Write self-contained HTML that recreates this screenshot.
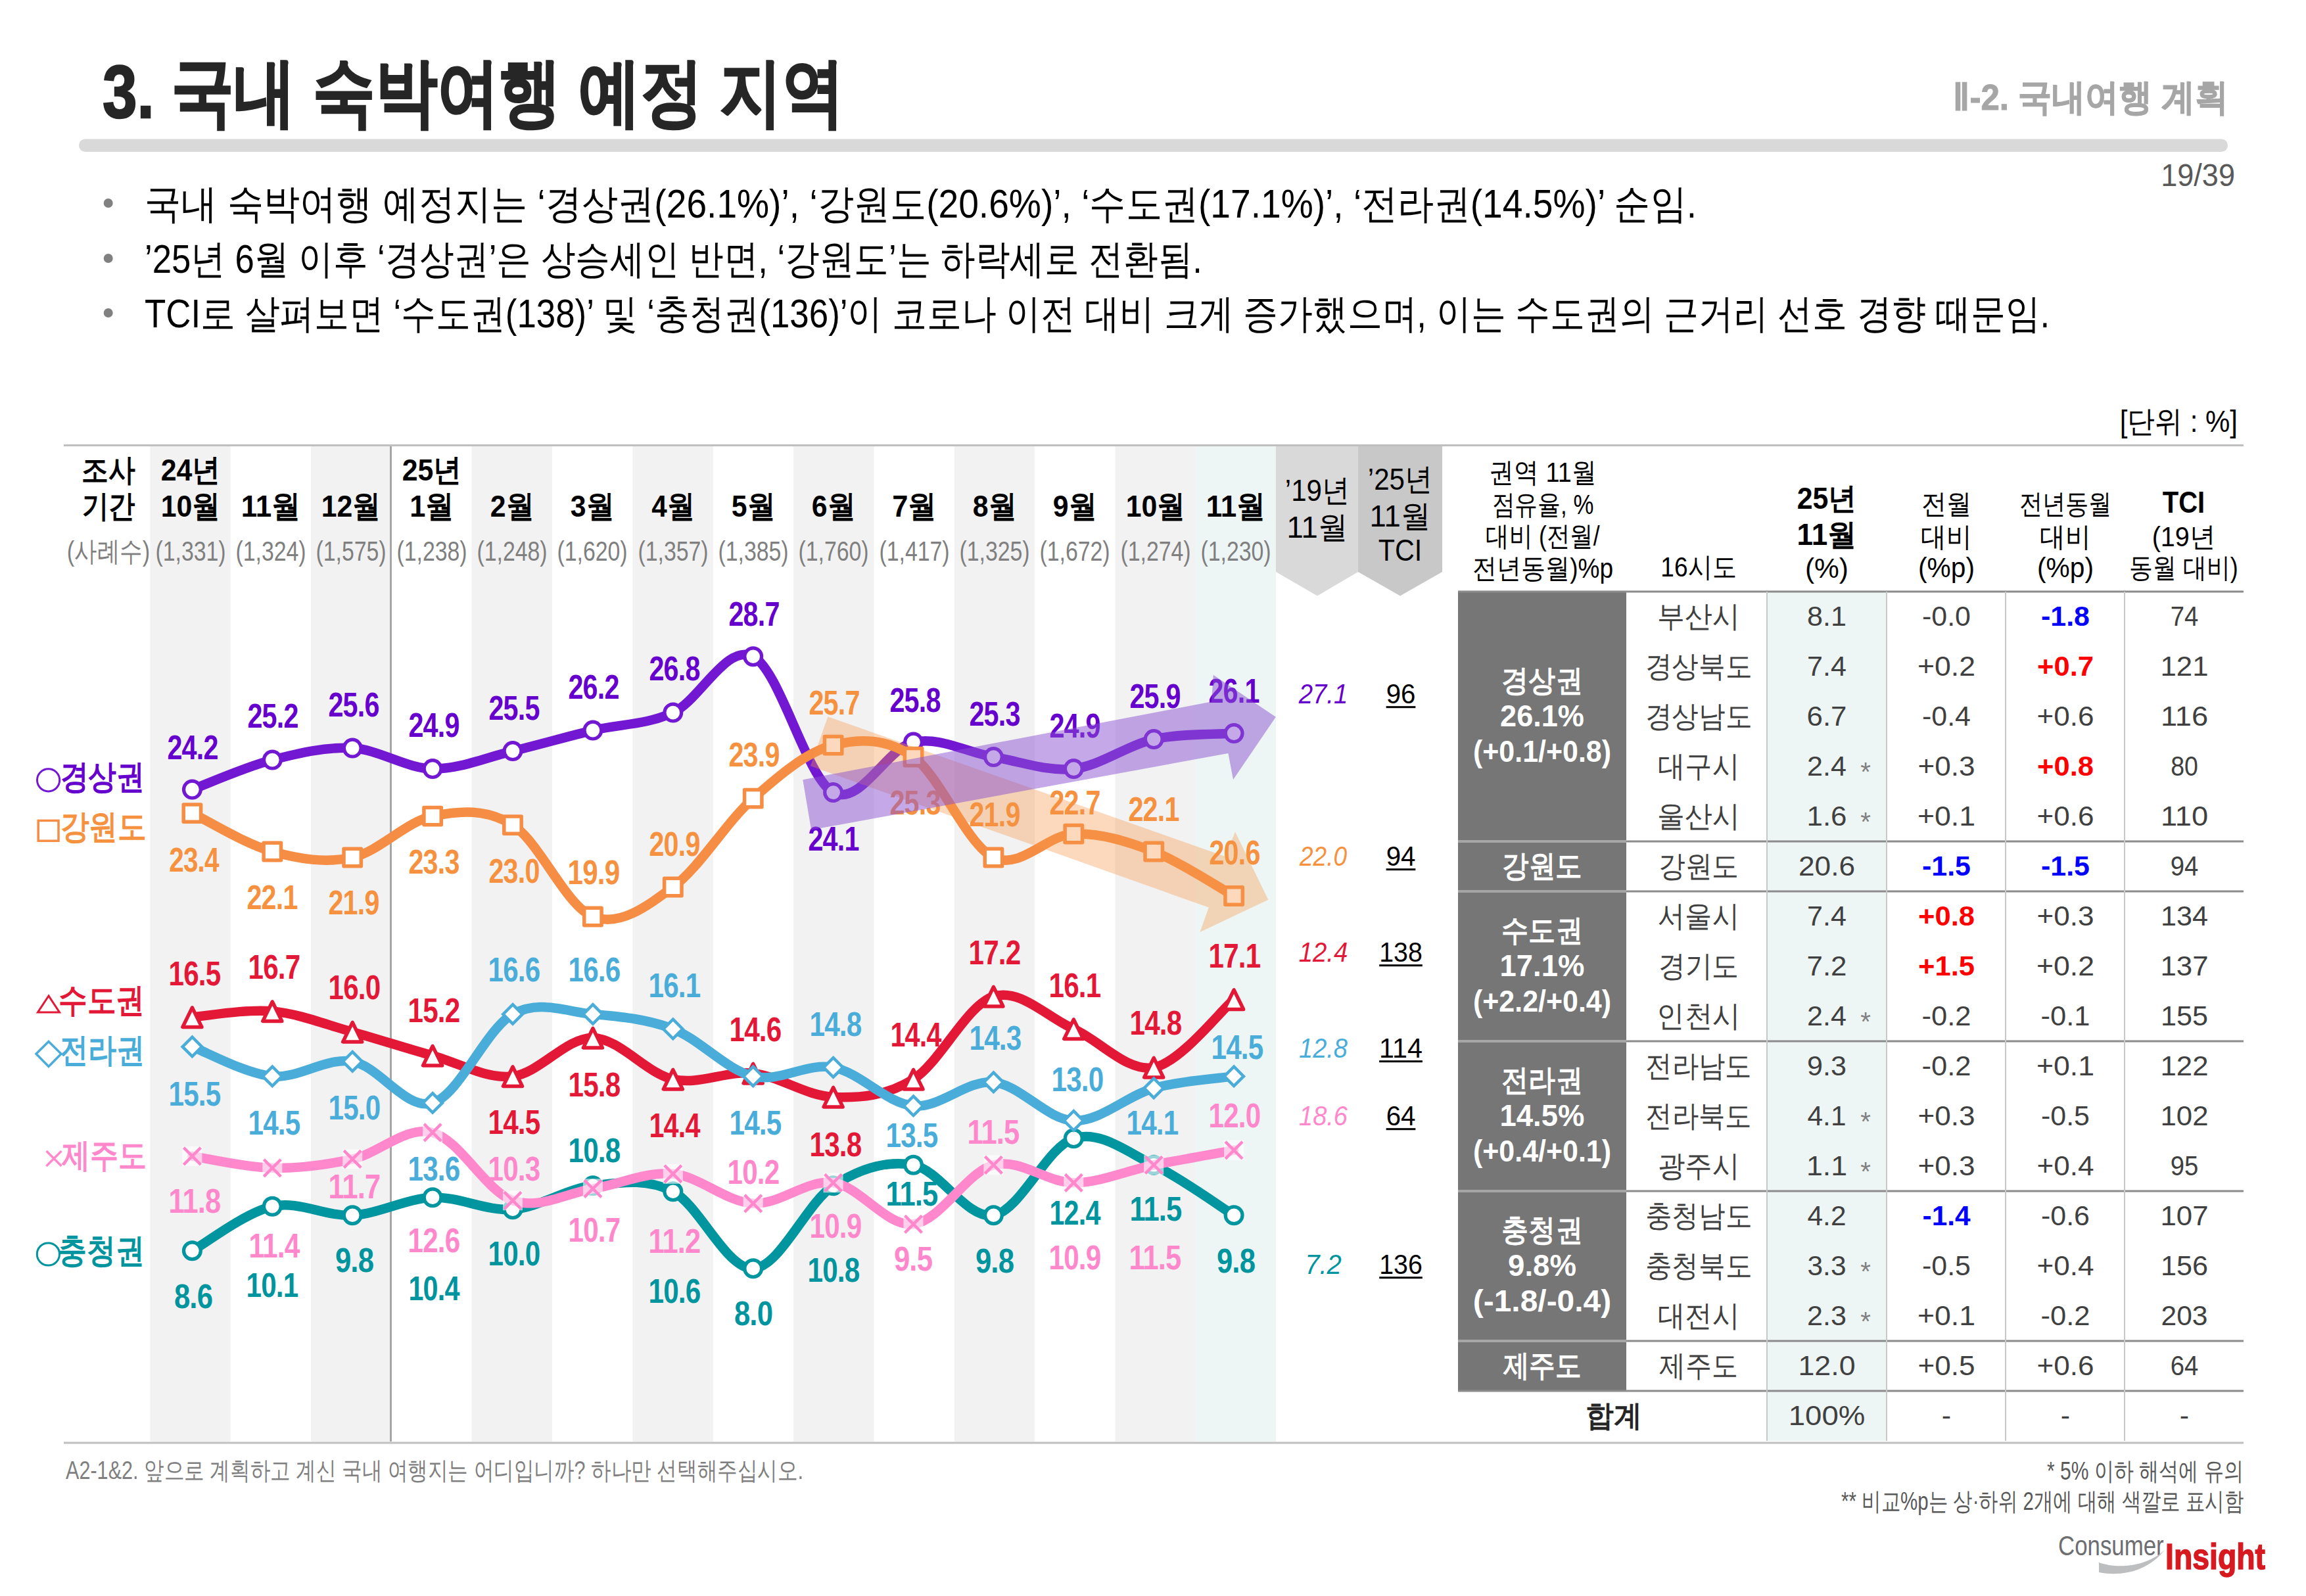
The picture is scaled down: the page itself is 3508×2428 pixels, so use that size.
<!DOCTYPE html>
<html><head><meta charset="utf-8"><style>
html,body{margin:0;padding:0;background:#fff;}
body{width:3508px;height:2428px;position:relative;overflow:hidden;font-family:"Liberation Sans", sans-serif;}
.t{position:absolute;white-space:nowrap;line-height:1.2;}
svg{position:absolute;left:0;top:0;}
</style></head><body>
<svg width="3508" height="2428" viewBox="0 0 3508 2428"><rect x="228.3" y="679" width="122.4" height="1514" fill="#f2f2f2"/><rect x="473.0" y="679" width="122.4" height="1514" fill="#f2f2f2"/><rect x="717.7" y="679" width="122.4" height="1514" fill="#f2f2f2"/><rect x="962.4" y="679" width="122.4" height="1514" fill="#f2f2f2"/><rect x="1207.1" y="679" width="122.4" height="1514" fill="#f2f2f2"/><rect x="1451.8" y="679" width="122.4" height="1514" fill="#f2f2f2"/><rect x="1696.5" y="679" width="122.4" height="1514" fill="#f2f2f2"/><rect x="1818" y="679" width="123" height="1514" fill="#eef6f5"/><polygon points="1941,679 2066,679 2066,870 2004,906.5 1941,870" fill="#d9d9d9"/><polygon points="2066,679 2194,679 2194,870 2130,906.5 2066,870" fill="#c8c8c8"/><rect x="2689" y="900" width="181" height="1292" fill="#eef6f5"/><rect x="2218" y="900" width="256" height="380" fill="#767676"/><rect x="2218" y="1280" width="256" height="76" fill="#767676"/><rect x="2218" y="1356" width="256" height="228" fill="#767676"/><rect x="2218" y="1584" width="256" height="228" fill="#767676"/><rect x="2218" y="1812" width="256" height="228" fill="#767676"/><rect x="2218" y="2040" width="256" height="76" fill="#767676"/><rect x="2218" y="1278.0" width="256" height="4" fill="#a6a6a6"/><rect x="2474" y="1278.5" width="939" height="3" fill="#8c8c8c"/><rect x="2218" y="1354.0" width="256" height="4" fill="#a6a6a6"/><rect x="2474" y="1354.5" width="939" height="3" fill="#8c8c8c"/><rect x="2218" y="1582.0" width="256" height="4" fill="#a6a6a6"/><rect x="2474" y="1582.5" width="939" height="3" fill="#8c8c8c"/><rect x="2218" y="1810.0" width="256" height="4" fill="#a6a6a6"/><rect x="2474" y="1810.5" width="939" height="3" fill="#8c8c8c"/><rect x="2218" y="2038.0" width="256" height="4" fill="#a6a6a6"/><rect x="2474" y="2038.5" width="939" height="3" fill="#8c8c8c"/><rect x="2218" y="898.5" width="1195" height="3" fill="#8c8c8c"/><rect x="2218" y="2114.5" width="1195" height="3" fill="#8c8c8c"/><rect x="2687.0" y="900" width="2" height="1292" fill="#c8c8c8"/><rect x="2869.0" y="900" width="2" height="1292" fill="#c8c8c8"/><rect x="3050.0" y="900" width="2" height="1292" fill="#c8c8c8"/><rect x="3231.0" y="900" width="2" height="1292" fill="#c8c8c8"/><rect x="97" y="676" width="3316" height="3" fill="#bfbfbf"/><rect x="97" y="2193.5" width="3316" height="3" fill="#bfbfbf"/><rect x="593" y="679" width="3" height="1514" fill="#a6a6a6"/><rect x="120" y="211.5" width="3269" height="19.5" rx="9.75" fill="#d9d9d9"/><circle cx="73.6" cy="1186.8" r="17.1" fill="none" stroke="#7318d2" stroke-width="3"/><rect x="58.2" y="1248.4" width="30.8" height="30.8" fill="none" stroke="#f58d45" stroke-width="3.5"/><polygon points="74,1515 57.5,1540 90.5,1540" fill="none" stroke="#e31837" stroke-width="3"/><polygon points="74,1584.5 93,1603.3 74,1622.4 55,1603.3" fill="none" stroke="#4aadd9" stroke-width="3.5"/><path d="M70.5,1751 L93.5,1774 M93.5,1751 L70.5,1774" stroke="#ff88cc" stroke-width="3.5"/><circle cx="73.4" cy="1908" r="17.1" fill="none" stroke="#00959f" stroke-width="3"/><circle cx="164.7" cy="309" r="7" fill="#808080"/><circle cx="164.7" cy="393" r="7" fill="#808080"/><circle cx="164.7" cy="476" r="7" fill="#808080"/><path d="M292.4,1902.8 C312.7,1891.5 373.7,1844.3 414.3,1835.3 C454.9,1826.3 495.6,1851.0 536.2,1848.8 C576.8,1846.5 617.5,1823.3 658.1,1821.8 C698.7,1820.3 739.4,1842.8 780.0,1839.8 C820.6,1836.8 861.3,1808.3 901.9,1803.8 C942.5,1799.3 983.2,1791.8 1023.8,1812.8 C1064.4,1833.8 1105.1,1931.3 1145.7,1929.8 C1186.3,1928.3 1227.0,1830.1 1267.6,1803.8 C1308.2,1777.6 1348.9,1764.8 1389.5,1772.3 C1430.1,1779.8 1470.8,1855.5 1511.4,1848.8 C1552.0,1842.0 1592.7,1744.6 1633.3,1731.8 C1673.9,1719.1 1714.6,1752.8 1755.2,1772.3 C1795.8,1791.8 1856.8,1836.1 1877.1,1848.8" fill="none" stroke="#00959f" stroke-width="14.5" stroke-linecap="round" stroke-linejoin="round"/><circle cx="292.4" cy="1902.8" r="12.9" fill="#fff" stroke="#00959f" stroke-width="5.2"/><circle cx="414.3" cy="1835.3" r="12.9" fill="#fff" stroke="#00959f" stroke-width="5.2"/><circle cx="536.2" cy="1848.8" r="12.9" fill="#fff" stroke="#00959f" stroke-width="5.2"/><circle cx="658.1" cy="1821.8" r="12.9" fill="#fff" stroke="#00959f" stroke-width="5.2"/><circle cx="780.0" cy="1839.8" r="12.9" fill="#fff" stroke="#00959f" stroke-width="5.2"/><circle cx="901.9" cy="1803.8" r="12.9" fill="#fff" stroke="#00959f" stroke-width="5.2"/><circle cx="1023.8" cy="1812.8" r="12.9" fill="#fff" stroke="#00959f" stroke-width="5.2"/><circle cx="1145.7" cy="1929.8" r="12.9" fill="#fff" stroke="#00959f" stroke-width="5.2"/><circle cx="1267.6" cy="1803.8" r="12.9" fill="#fff" stroke="#00959f" stroke-width="5.2"/><circle cx="1389.5" cy="1772.3" r="12.9" fill="#fff" stroke="#00959f" stroke-width="5.2"/><circle cx="1511.4" cy="1848.8" r="12.9" fill="#fff" stroke="#00959f" stroke-width="5.2"/><circle cx="1633.3" cy="1731.8" r="12.9" fill="#fff" stroke="#00959f" stroke-width="5.2"/><circle cx="1755.2" cy="1772.3" r="12.9" fill="#fff" stroke="#00959f" stroke-width="5.2"/><circle cx="1877.1" cy="1848.8" r="12.9" fill="#fff" stroke="#00959f" stroke-width="5.2"/><path d="M292.4,1758.8 C312.7,1761.8 373.7,1776.1 414.3,1776.8 C454.9,1777.6 495.6,1772.3 536.2,1763.3 C576.8,1754.3 617.5,1712.4 658.1,1722.9 C698.7,1733.3 739.4,1812.1 780.0,1826.3 C820.6,1840.5 861.3,1815.1 901.9,1808.3 C942.5,1801.6 983.2,1782.1 1023.8,1785.8 C1064.4,1789.6 1105.1,1828.6 1145.7,1830.8 C1186.3,1833.1 1227.0,1794.1 1267.6,1799.3 C1308.2,1804.6 1348.9,1866.8 1389.5,1862.3 C1430.1,1857.8 1470.8,1782.8 1511.4,1772.3 C1552.0,1761.8 1592.7,1799.3 1633.3,1799.3 C1673.9,1799.3 1714.6,1780.6 1755.2,1772.3 C1795.8,1764.1 1856.8,1753.6 1877.1,1749.8" fill="none" stroke="#ff88cc" stroke-width="14.5" stroke-linecap="round" stroke-linejoin="round"/><rect x="277.4" y="1743.8" width="30" height="30" fill="#fff" fill-opacity="0.6"/><path d="M279.4,1745.8 L305.4,1771.8 M305.4,1745.8 L279.4,1771.8" stroke="#ff88cc" stroke-width="4.5"/><rect x="399.3" y="1761.8" width="30" height="30" fill="#fff" fill-opacity="0.6"/><path d="M401.3,1763.8 L427.3,1789.8 M427.3,1763.8 L401.3,1789.8" stroke="#ff88cc" stroke-width="4.5"/><rect x="521.2" y="1748.3" width="30" height="30" fill="#fff" fill-opacity="0.6"/><path d="M523.2,1750.3 L549.2,1776.3 M549.2,1750.3 L523.2,1776.3" stroke="#ff88cc" stroke-width="4.5"/><rect x="643.1" y="1707.9" width="30" height="30" fill="#fff" fill-opacity="0.6"/><path d="M645.1,1709.9 L671.1,1735.9 M671.1,1709.9 L645.1,1735.9" stroke="#ff88cc" stroke-width="4.5"/><rect x="765.0" y="1811.3" width="30" height="30" fill="#fff" fill-opacity="0.6"/><path d="M767.0,1813.3 L793.0,1839.3 M793.0,1813.3 L767.0,1839.3" stroke="#ff88cc" stroke-width="4.5"/><rect x="886.9" y="1793.3" width="30" height="30" fill="#fff" fill-opacity="0.6"/><path d="M888.9,1795.3 L914.9,1821.3 M914.9,1795.3 L888.9,1821.3" stroke="#ff88cc" stroke-width="4.5"/><rect x="1008.8" y="1770.8" width="30" height="30" fill="#fff" fill-opacity="0.6"/><path d="M1010.8,1772.8 L1036.8,1798.8 M1036.8,1772.8 L1010.8,1798.8" stroke="#ff88cc" stroke-width="4.5"/><rect x="1130.7" y="1815.8" width="30" height="30" fill="#fff" fill-opacity="0.6"/><path d="M1132.7,1817.8 L1158.7,1843.8 M1158.7,1817.8 L1132.7,1843.8" stroke="#ff88cc" stroke-width="4.5"/><rect x="1252.6" y="1784.3" width="30" height="30" fill="#fff" fill-opacity="0.6"/><path d="M1254.6,1786.3 L1280.6,1812.3 M1280.6,1786.3 L1254.6,1812.3" stroke="#ff88cc" stroke-width="4.5"/><rect x="1374.5" y="1847.3" width="30" height="30" fill="#fff" fill-opacity="0.6"/><path d="M1376.5,1849.3 L1402.5,1875.3 M1402.5,1849.3 L1376.5,1875.3" stroke="#ff88cc" stroke-width="4.5"/><rect x="1496.4" y="1757.3" width="30" height="30" fill="#fff" fill-opacity="0.6"/><path d="M1498.4,1759.3 L1524.4,1785.3 M1524.4,1759.3 L1498.4,1785.3" stroke="#ff88cc" stroke-width="4.5"/><rect x="1618.3" y="1784.3" width="30" height="30" fill="#fff" fill-opacity="0.6"/><path d="M1620.3,1786.3 L1646.3,1812.3 M1646.3,1786.3 L1620.3,1812.3" stroke="#ff88cc" stroke-width="4.5"/><rect x="1740.2" y="1757.3" width="30" height="30" fill="#fff" fill-opacity="0.6"/><path d="M1742.2,1759.3 L1768.2,1785.3 M1768.2,1759.3 L1742.2,1785.3" stroke="#ff88cc" stroke-width="4.5"/><rect x="1862.1" y="1734.8" width="30" height="30" fill="#fff" fill-opacity="0.6"/><path d="M1864.1,1736.8 L1890.1,1762.8 M1890.1,1736.8 L1864.1,1762.8" stroke="#ff88cc" stroke-width="4.5"/><path d="M292.4,1547.4 C312.7,1545.9 373.7,1534.7 414.3,1538.4 C454.9,1542.2 495.6,1558.7 536.2,1569.9 C576.8,1581.2 617.5,1594.7 658.1,1605.9 C698.7,1617.1 739.4,1641.9 780.0,1637.4 C820.6,1632.9 861.3,1578.2 901.9,1578.9 C942.5,1579.7 983.2,1632.9 1023.8,1641.9 C1064.4,1650.9 1105.1,1628.4 1145.7,1632.9 C1186.3,1637.4 1227.0,1667.4 1267.6,1668.9 C1308.2,1670.4 1348.9,1667.4 1389.5,1641.9 C1430.1,1616.4 1470.8,1528.7 1511.4,1515.9 C1552.0,1503.2 1592.7,1547.4 1633.3,1565.4 C1673.9,1583.4 1714.6,1631.4 1755.2,1623.9 C1795.8,1616.4 1856.8,1537.7 1877.1,1520.4" fill="none" stroke="#e31837" stroke-width="14.5" stroke-linecap="round" stroke-linejoin="round"/><polygon points="292.4,1532.9 277.9,1562.4 306.9,1562.4" fill="#fff" stroke="#e31837" stroke-width="5.5" stroke-linejoin="round"/><polygon points="414.3,1523.9 399.8,1553.4 428.8,1553.4" fill="#fff" stroke="#e31837" stroke-width="5.5" stroke-linejoin="round"/><polygon points="536.2,1555.4 521.7,1584.9 550.7,1584.9" fill="#fff" stroke="#e31837" stroke-width="5.5" stroke-linejoin="round"/><polygon points="658.1,1591.4 643.6,1620.9 672.6,1620.9" fill="#fff" stroke="#e31837" stroke-width="5.5" stroke-linejoin="round"/><polygon points="780.0,1622.9 765.5,1652.4 794.5,1652.4" fill="#fff" stroke="#e31837" stroke-width="5.5" stroke-linejoin="round"/><polygon points="901.9,1564.4 887.4,1593.9 916.4,1593.9" fill="#fff" stroke="#e31837" stroke-width="5.5" stroke-linejoin="round"/><polygon points="1023.8,1627.4 1009.3,1656.9 1038.3,1656.9" fill="#fff" stroke="#e31837" stroke-width="5.5" stroke-linejoin="round"/><polygon points="1145.7,1618.4 1131.2,1647.9 1160.2,1647.9" fill="#fff" stroke="#e31837" stroke-width="5.5" stroke-linejoin="round"/><polygon points="1267.6,1654.4 1253.1,1683.9 1282.1,1683.9" fill="#fff" stroke="#e31837" stroke-width="5.5" stroke-linejoin="round"/><polygon points="1389.5,1627.4 1375.0,1656.9 1404.0,1656.9" fill="#fff" stroke="#e31837" stroke-width="5.5" stroke-linejoin="round"/><polygon points="1511.4,1501.4 1496.9,1530.9 1525.9,1530.9" fill="#fff" stroke="#e31837" stroke-width="5.5" stroke-linejoin="round"/><polygon points="1633.3,1550.9 1618.8,1580.4 1647.8,1580.4" fill="#fff" stroke="#e31837" stroke-width="5.5" stroke-linejoin="round"/><polygon points="1755.2,1609.4 1740.7,1638.9 1769.7,1638.9" fill="#fff" stroke="#e31837" stroke-width="5.5" stroke-linejoin="round"/><polygon points="1877.1,1505.9 1862.6,1535.4 1891.6,1535.4" fill="#fff" stroke="#e31837" stroke-width="5.5" stroke-linejoin="round"/><path d="M292.4,1592.4 C312.7,1599.9 373.7,1633.6 414.3,1637.4 C454.9,1641.1 495.6,1608.2 536.2,1614.9 C576.8,1621.6 617.5,1689.9 658.1,1677.9 C698.7,1665.9 739.4,1565.4 780.0,1542.9 C820.6,1520.4 861.3,1539.2 901.9,1542.9 C942.5,1546.7 983.2,1549.7 1023.8,1565.4 C1064.4,1581.2 1105.1,1627.6 1145.7,1637.4 C1186.3,1647.1 1227.0,1616.4 1267.6,1623.9 C1308.2,1631.4 1348.9,1678.6 1389.5,1682.4 C1430.1,1686.1 1470.8,1642.6 1511.4,1646.4 C1552.0,1650.1 1592.7,1703.4 1633.3,1704.9 C1673.9,1706.4 1714.6,1666.6 1755.2,1655.4 C1795.8,1644.1 1856.8,1640.4 1877.1,1637.4" fill="none" stroke="#4aadd9" stroke-width="14.5" stroke-linecap="round" stroke-linejoin="round"/><polygon points="292.4,1577.7 307.1,1592.4 292.4,1607.1 277.7,1592.4" fill="#fff" stroke="#4aadd9" stroke-width="4.6" stroke-linejoin="miter"/><polygon points="414.3,1622.7 429.0,1637.4 414.3,1652.1 399.6,1637.4" fill="#fff" stroke="#4aadd9" stroke-width="4.6" stroke-linejoin="miter"/><polygon points="536.2,1600.2 550.9,1614.9 536.2,1629.6 521.5,1614.9" fill="#fff" stroke="#4aadd9" stroke-width="4.6" stroke-linejoin="miter"/><polygon points="658.1,1663.2 672.8,1677.9 658.1,1692.6 643.4,1677.9" fill="#fff" stroke="#4aadd9" stroke-width="4.6" stroke-linejoin="miter"/><polygon points="780.0,1528.2 794.7,1542.9 780.0,1557.6 765.3,1542.9" fill="#fff" stroke="#4aadd9" stroke-width="4.6" stroke-linejoin="miter"/><polygon points="901.9,1528.2 916.6,1542.9 901.9,1557.6 887.2,1542.9" fill="#fff" stroke="#4aadd9" stroke-width="4.6" stroke-linejoin="miter"/><polygon points="1023.8,1550.7 1038.5,1565.4 1023.8,1580.1 1009.1,1565.4" fill="#fff" stroke="#4aadd9" stroke-width="4.6" stroke-linejoin="miter"/><polygon points="1145.7,1622.7 1160.4,1637.4 1145.7,1652.1 1131.0,1637.4" fill="#fff" stroke="#4aadd9" stroke-width="4.6" stroke-linejoin="miter"/><polygon points="1267.6,1609.2 1282.3,1623.9 1267.6,1638.6 1252.9,1623.9" fill="#fff" stroke="#4aadd9" stroke-width="4.6" stroke-linejoin="miter"/><polygon points="1389.5,1667.7 1404.2,1682.4 1389.5,1697.1 1374.8,1682.4" fill="#fff" stroke="#4aadd9" stroke-width="4.6" stroke-linejoin="miter"/><polygon points="1511.4,1631.7 1526.1,1646.4 1511.4,1661.1 1496.7,1646.4" fill="#fff" stroke="#4aadd9" stroke-width="4.6" stroke-linejoin="miter"/><polygon points="1633.3,1690.2 1648.0,1704.9 1633.3,1719.6 1618.6,1704.9" fill="#fff" stroke="#4aadd9" stroke-width="4.6" stroke-linejoin="miter"/><polygon points="1755.2,1640.7 1769.9,1655.4 1755.2,1670.1 1740.5,1655.4" fill="#fff" stroke="#4aadd9" stroke-width="4.6" stroke-linejoin="miter"/><polygon points="1877.1,1622.7 1891.8,1637.4 1877.1,1652.1 1862.4,1637.4" fill="#fff" stroke="#4aadd9" stroke-width="4.6" stroke-linejoin="miter"/><path d="M292.4,1201.1 C312.7,1193.6 373.7,1166.6 414.3,1156.1 C454.9,1145.6 495.6,1135.9 536.2,1138.1 C576.8,1140.4 617.5,1168.8 658.1,1169.6 C698.7,1170.3 739.4,1152.4 780.0,1142.6 C820.6,1132.9 861.3,1120.9 901.9,1111.1 C942.5,1101.4 983.2,1102.9 1023.8,1084.1 C1064.4,1065.4 1105.1,978.4 1145.7,998.7 C1186.3,1018.9 1227.0,1183.8 1267.6,1205.6 C1308.2,1227.3 1348.9,1138.1 1389.5,1129.1 C1430.1,1120.1 1470.8,1144.9 1511.4,1151.6 C1552.0,1158.4 1592.7,1174.1 1633.3,1169.6 C1673.9,1165.1 1714.6,1133.6 1755.2,1124.6 C1795.8,1115.6 1856.8,1117.1 1877.1,1115.6" fill="none" stroke="#7318d2" stroke-width="14.5" stroke-linecap="round" stroke-linejoin="round"/><circle cx="292.4" cy="1201.1" r="12.9" fill="#fff" stroke="#7318d2" stroke-width="5.2"/><circle cx="414.3" cy="1156.1" r="12.9" fill="#fff" stroke="#7318d2" stroke-width="5.2"/><circle cx="536.2" cy="1138.1" r="12.9" fill="#fff" stroke="#7318d2" stroke-width="5.2"/><circle cx="658.1" cy="1169.6" r="12.9" fill="#fff" stroke="#7318d2" stroke-width="5.2"/><circle cx="780.0" cy="1142.6" r="12.9" fill="#fff" stroke="#7318d2" stroke-width="5.2"/><circle cx="901.9" cy="1111.1" r="12.9" fill="#fff" stroke="#7318d2" stroke-width="5.2"/><circle cx="1023.8" cy="1084.1" r="12.9" fill="#fff" stroke="#7318d2" stroke-width="5.2"/><circle cx="1145.7" cy="998.7" r="12.9" fill="#fff" stroke="#7318d2" stroke-width="5.2"/><circle cx="1267.6" cy="1205.6" r="12.9" fill="#fff" stroke="#7318d2" stroke-width="5.2"/><circle cx="1389.5" cy="1129.1" r="12.9" fill="#fff" stroke="#7318d2" stroke-width="5.2"/><circle cx="1511.4" cy="1151.6" r="12.9" fill="#fff" stroke="#7318d2" stroke-width="5.2"/><circle cx="1633.3" cy="1169.6" r="12.9" fill="#fff" stroke="#7318d2" stroke-width="5.2"/><circle cx="1755.2" cy="1124.6" r="12.9" fill="#fff" stroke="#7318d2" stroke-width="5.2"/><circle cx="1877.1" cy="1115.6" r="12.9" fill="#fff" stroke="#7318d2" stroke-width="5.2"/><path d="M292.4,1237.1 C312.7,1246.8 373.7,1284.3 414.3,1295.5 C454.9,1306.8 495.6,1313.5 536.2,1304.5 C576.8,1295.5 617.5,1249.8 658.1,1241.6 C698.7,1233.3 739.4,1229.6 780.0,1255.1 C820.6,1280.5 861.3,1378.8 901.9,1394.5 C942.5,1410.2 983.2,1379.5 1023.8,1349.5 C1064.4,1319.5 1105.1,1250.6 1145.7,1214.6 C1186.3,1178.6 1227.0,1144.1 1267.6,1133.6 C1308.2,1123.1 1348.9,1123.1 1389.5,1151.6 C1430.1,1180.1 1470.8,1285.0 1511.4,1304.5 C1552.0,1324.0 1592.7,1270.1 1633.3,1268.6 C1673.9,1267.1 1714.6,1279.8 1755.2,1295.5 C1795.8,1311.3 1856.8,1351.8 1877.1,1363.0" fill="none" stroke="#f58d45" stroke-width="14.5" stroke-linecap="round" stroke-linejoin="round"/><rect x="279.2" y="1223.9" width="26.4" height="26.4" fill="#fff" stroke="#f58d45" stroke-width="5.5" stroke-linejoin="round"/><rect x="401.1" y="1282.3" width="26.4" height="26.4" fill="#fff" stroke="#f58d45" stroke-width="5.5" stroke-linejoin="round"/><rect x="523.0" y="1291.3" width="26.4" height="26.4" fill="#fff" stroke="#f58d45" stroke-width="5.5" stroke-linejoin="round"/><rect x="644.9" y="1228.4" width="26.4" height="26.4" fill="#fff" stroke="#f58d45" stroke-width="5.5" stroke-linejoin="round"/><rect x="766.8" y="1241.9" width="26.4" height="26.4" fill="#fff" stroke="#f58d45" stroke-width="5.5" stroke-linejoin="round"/><rect x="888.7" y="1381.3" width="26.4" height="26.4" fill="#fff" stroke="#f58d45" stroke-width="5.5" stroke-linejoin="round"/><rect x="1010.6" y="1336.3" width="26.4" height="26.4" fill="#fff" stroke="#f58d45" stroke-width="5.5" stroke-linejoin="round"/><rect x="1132.5" y="1201.4" width="26.4" height="26.4" fill="#fff" stroke="#f58d45" stroke-width="5.5" stroke-linejoin="round"/><rect x="1254.4" y="1120.4" width="26.4" height="26.4" fill="#fff" stroke="#f58d45" stroke-width="5.5" stroke-linejoin="round"/><rect x="1376.3" y="1138.4" width="26.4" height="26.4" fill="#fff" stroke="#f58d45" stroke-width="5.5" stroke-linejoin="round"/><rect x="1498.2" y="1291.3" width="26.4" height="26.4" fill="#fff" stroke="#f58d45" stroke-width="5.5" stroke-linejoin="round"/><rect x="1620.1" y="1255.4" width="26.4" height="26.4" fill="#fff" stroke="#f58d45" stroke-width="5.5" stroke-linejoin="round"/><rect x="1742.0" y="1282.3" width="26.4" height="26.4" fill="#fff" stroke="#f58d45" stroke-width="5.5" stroke-linejoin="round"/><rect x="1863.9" y="1349.8" width="26.4" height="26.4" fill="#fff" stroke="#f58d45" stroke-width="5.5" stroke-linejoin="round"/></svg>
<div id="t0" class="t" style="left:156.0px;top:141.0px;font-size:113px;color:#262626;font-weight:bold;transform:translate(0,-50%) scaleX(0.8358);transform-origin:left center;-webkit-text-stroke:2.5px #262626;">3. 국내 숙박여행 예정 지역</div>
<div id="t1" class="t" style="left:3390.0px;top:148.0px;font-size:56px;color:#a6a6a6;font-weight:bold;transform:translate(-100%,-50%) scaleX(0.9100);transform-origin:right center;-webkit-text-stroke:1px #a6a6a6;">Ⅱ-2. 국내여행 계획</div>
<div id="t2" class="t" style="left:3400.0px;top:266.0px;font-size:49px;color:#595959;font-weight:normal;transform:translate(-100%,-50%) scaleX(0.9202);transform-origin:right center;">19/39</div>
<div id="t3" class="t" style="left:220.0px;top:311.0px;font-size:61px;color:#000;font-weight:normal;transform:translate(0,-50%) scaleX(0.9043);transform-origin:left center;">국내 숙박여행 예정지는 ‘경상권(26.1%)’, ‘강원도(20.6%)’, ‘수도권(17.1%)’, ‘전라권(14.5%)’ 순임.</div>
<div id="t4" class="t" style="left:220.0px;top:395.0px;font-size:61px;color:#000;font-weight:normal;transform:translate(0,-50%) scaleX(0.8631);transform-origin:left center;">’25년 6월 이후 ‘경상권’은 상승세인 반면, ‘강원도’는 하락세로 전환됨.</div>
<div id="t5" class="t" style="left:220.0px;top:478.0px;font-size:61px;color:#000;font-weight:normal;transform:translate(0,-50%) scaleX(0.8661);transform-origin:left center;">TCI로 살펴보면 ‘수도권(138)’ 및 ‘충청권(136)’이 코로나 이전 대비 크게 증가했으며, 이는 수도권의 근거리 선호 경향 때문임.</div>
<div id="t6" class="t" style="left:3404.0px;top:642.0px;font-size:46px;color:#000;font-weight:normal;transform:translate(-100%,-50%) scaleX(0.9109);transform-origin:right center;">[단위 : %]</div>
<div id="t7" class="t" style="left:164.5px;top:715.0px;font-size:47px;color:#000;font-weight:bold;transform:translate(-50%,-50%) scaleX(0.8696);transform-origin:center center;">조사</div>
<div id="t8" class="t" style="left:164.5px;top:770.0px;font-size:47px;color:#000;font-weight:bold;transform:translate(-50%,-50%) scaleX(0.8602);transform-origin:center center;">기간</div>
<div id="t9" class="t" style="left:164.5px;top:838.5px;font-size:42px;color:#7f7f7f;font-weight:normal;transform:translate(-50%,-50%) scaleX(0.8201);transform-origin:center center;">(사례수)</div>
<div id="t10" class="t" style="left:289.5px;top:715.0px;font-size:47px;color:#000;font-weight:bold;transform:translate(-50%,-50%) scaleX(0.9113);transform-origin:center center;">24년</div>
<div id="t11" class="t" style="left:656.5px;top:715.0px;font-size:47px;color:#000;font-weight:bold;transform:translate(-50%,-50%) scaleX(0.9113);transform-origin:center center;">25년</div>
<div id="t12" class="t" style="left:289.5px;top:770.0px;font-size:47px;color:#000;font-weight:bold;transform:translate(-50%,-50%) scaleX(0.9113);transform-origin:center center;">10월</div>
<div id="t13" class="t" style="left:289.5px;top:838.5px;font-size:42px;color:#7f7f7f;font-weight:normal;transform:translate(-50%,-50%) scaleX(0.8056);transform-origin:center center;">(1,331)</div>
<div id="t14" class="t" style="left:411.9px;top:770.0px;font-size:47px;color:#000;font-weight:bold;transform:translate(-50%,-50%) scaleX(0.9373);transform-origin:center center;">11월</div>
<div id="t15" class="t" style="left:411.9px;top:838.5px;font-size:42px;color:#7f7f7f;font-weight:normal;transform:translate(-50%,-50%) scaleX(0.8056);transform-origin:center center;">(1,324)</div>
<div id="t16" class="t" style="left:534.2px;top:770.0px;font-size:47px;color:#000;font-weight:bold;transform:translate(-50%,-50%) scaleX(0.9113);transform-origin:center center;">12월</div>
<div id="t17" class="t" style="left:534.2px;top:838.5px;font-size:42px;color:#7f7f7f;font-weight:normal;transform:translate(-50%,-50%) scaleX(0.8056);transform-origin:center center;">(1,575)</div>
<div id="t18" class="t" style="left:656.5px;top:770.0px;font-size:47px;color:#000;font-weight:bold;transform:translate(-50%,-50%) scaleX(0.9235);transform-origin:center center;">1월</div>
<div id="t19" class="t" style="left:656.5px;top:838.5px;font-size:42px;color:#7f7f7f;font-weight:normal;transform:translate(-50%,-50%) scaleX(0.8056);transform-origin:center center;">(1,238)</div>
<div id="t20" class="t" style="left:778.9px;top:770.0px;font-size:47px;color:#000;font-weight:bold;transform:translate(-50%,-50%) scaleX(0.9099);transform-origin:center center;">2월</div>
<div id="t21" class="t" style="left:778.9px;top:838.5px;font-size:42px;color:#7f7f7f;font-weight:normal;transform:translate(-50%,-50%) scaleX(0.8056);transform-origin:center center;">(1,248)</div>
<div id="t22" class="t" style="left:901.2px;top:770.0px;font-size:47px;color:#000;font-weight:bold;transform:translate(-50%,-50%) scaleX(0.9099);transform-origin:center center;">3월</div>
<div id="t23" class="t" style="left:901.2px;top:838.5px;font-size:42px;color:#7f7f7f;font-weight:normal;transform:translate(-50%,-50%) scaleX(0.8056);transform-origin:center center;">(1,620)</div>
<div id="t24" class="t" style="left:1023.6px;top:770.0px;font-size:47px;color:#000;font-weight:bold;transform:translate(-50%,-50%) scaleX(0.8967);transform-origin:center center;">4월</div>
<div id="t25" class="t" style="left:1023.6px;top:838.5px;font-size:42px;color:#7f7f7f;font-weight:normal;transform:translate(-50%,-50%) scaleX(0.8056);transform-origin:center center;">(1,357)</div>
<div id="t26" class="t" style="left:1145.9px;top:770.0px;font-size:47px;color:#000;font-weight:bold;transform:translate(-50%,-50%) scaleX(0.9099);transform-origin:center center;">5월</div>
<div id="t27" class="t" style="left:1145.9px;top:838.5px;font-size:42px;color:#7f7f7f;font-weight:normal;transform:translate(-50%,-50%) scaleX(0.8056);transform-origin:center center;">(1,385)</div>
<div id="t28" class="t" style="left:1268.3px;top:770.0px;font-size:47px;color:#000;font-weight:bold;transform:translate(-50%,-50%) scaleX(0.9099);transform-origin:center center;">6월</div>
<div id="t29" class="t" style="left:1268.3px;top:838.5px;font-size:42px;color:#7f7f7f;font-weight:normal;transform:translate(-50%,-50%) scaleX(0.8056);transform-origin:center center;">(1,760)</div>
<div id="t30" class="t" style="left:1390.6px;top:770.0px;font-size:47px;color:#000;font-weight:bold;transform:translate(-50%,-50%) scaleX(0.9235);transform-origin:center center;">7월</div>
<div id="t31" class="t" style="left:1390.6px;top:838.5px;font-size:42px;color:#7f7f7f;font-weight:normal;transform:translate(-50%,-50%) scaleX(0.8056);transform-origin:center center;">(1,417)</div>
<div id="t32" class="t" style="left:1513.0px;top:770.0px;font-size:47px;color:#000;font-weight:bold;transform:translate(-50%,-50%) scaleX(0.9099);transform-origin:center center;">8월</div>
<div id="t33" class="t" style="left:1513.0px;top:838.5px;font-size:42px;color:#7f7f7f;font-weight:normal;transform:translate(-50%,-50%) scaleX(0.8056);transform-origin:center center;">(1,325)</div>
<div id="t34" class="t" style="left:1635.3px;top:770.0px;font-size:47px;color:#000;font-weight:bold;transform:translate(-50%,-50%) scaleX(0.9099);transform-origin:center center;">9월</div>
<div id="t35" class="t" style="left:1635.3px;top:838.5px;font-size:42px;color:#7f7f7f;font-weight:normal;transform:translate(-50%,-50%) scaleX(0.8056);transform-origin:center center;">(1,672)</div>
<div id="t36" class="t" style="left:1757.7px;top:770.0px;font-size:47px;color:#000;font-weight:bold;transform:translate(-50%,-50%) scaleX(0.9113);transform-origin:center center;">10월</div>
<div id="t37" class="t" style="left:1757.7px;top:838.5px;font-size:42px;color:#7f7f7f;font-weight:normal;transform:translate(-50%,-50%) scaleX(0.8056);transform-origin:center center;">(1,274)</div>
<div id="t38" class="t" style="left:1880.0px;top:770.0px;font-size:47px;color:#000;font-weight:bold;transform:translate(-50%,-50%) scaleX(0.9373);transform-origin:center center;">11월</div>
<div id="t39" class="t" style="left:1880.0px;top:838.5px;font-size:42px;color:#7f7f7f;font-weight:normal;transform:translate(-50%,-50%) scaleX(0.8056);transform-origin:center center;">(1,230)</div>
<div id="t40" class="t" style="left:2004.0px;top:746.0px;font-size:47px;color:#000;font-weight:normal;transform:translate(-50%,-50%) scaleX(0.8956);transform-origin:center center;">’19년</div>
<div id="t41" class="t" style="left:2004.0px;top:802.0px;font-size:47px;color:#000;font-weight:normal;transform:translate(-50%,-50%) scaleX(0.9682);transform-origin:center center;">11월</div>
<div id="t42" class="t" style="left:2130.0px;top:728.5px;font-size:47px;color:#000;font-weight:normal;transform:translate(-50%,-50%) scaleX(0.8956);transform-origin:center center;">’25년</div>
<div id="t43" class="t" style="left:2130.0px;top:785.0px;font-size:47px;color:#000;font-weight:normal;transform:translate(-50%,-50%) scaleX(0.9682);transform-origin:center center;">11월</div>
<div id="t44" class="t" style="left:2130.0px;top:837.0px;font-size:47px;color:#000;font-weight:normal;transform:translate(-50%,-50%) scaleX(0.8775);transform-origin:center center;">TCI</div>
<div id="t45" class="t" style="left:2347.0px;top:719.0px;font-size:42px;color:#000;font-weight:normal;transform:translate(-50%,-50%) scaleX(0.9003);transform-origin:center center;">권역 11월</div>
<div id="t46" class="t" style="left:2347.0px;top:768.0px;font-size:42px;color:#000;font-weight:normal;transform:translate(-50%,-50%) scaleX(0.8291);transform-origin:center center;">점유율, %</div>
<div id="t47" class="t" style="left:2347.0px;top:816.0px;font-size:42px;color:#000;font-weight:normal;transform:translate(-50%,-50%) scaleX(0.8446);transform-origin:center center;">대비 (전월/</div>
<div id="t48" class="t" style="left:2347.0px;top:865.0px;font-size:42px;color:#000;font-weight:normal;transform:translate(-50%,-50%) scaleX(0.8816);transform-origin:center center;">전년동월)%p</div>
<div id="t49" class="t" style="left:2584.0px;top:863.0px;font-size:42px;color:#000;font-weight:normal;transform:translate(-50%,-50%) scaleX(0.8820);transform-origin:center center;">16시도</div>
<div id="t50" class="t" style="left:2779.0px;top:759.0px;font-size:46px;color:#000;font-weight:bold;transform:translate(-50%,-50%) scaleX(0.9324);transform-origin:center center;">25년</div>
<div id="t51" class="t" style="left:2779.0px;top:814.0px;font-size:46px;color:#000;font-weight:bold;transform:translate(-50%,-50%) scaleX(0.9591);transform-origin:center center;">11월</div>
<div id="t52" class="t" style="left:2779.0px;top:865.0px;font-size:42px;color:#000;font-weight:normal;transform:translate(-50%,-50%) scaleX(1.0109);transform-origin:center center;">(%)</div>
<div id="t53" class="t" style="left:2961.0px;top:767.0px;font-size:42px;color:#000;font-weight:normal;transform:translate(-50%,-50%) scaleX(0.9091);transform-origin:center center;">전월</div>
<div id="t54" class="t" style="left:2961.0px;top:817.0px;font-size:42px;color:#000;font-weight:normal;transform:translate(-50%,-50%) scaleX(0.9211);transform-origin:center center;">대비</div>
<div id="t55" class="t" style="left:2961.0px;top:864.0px;font-size:42px;color:#000;font-weight:normal;transform:translate(-50%,-50%) scaleX(0.9682);transform-origin:center center;">(%p)</div>
<div id="t56" class="t" style="left:3142.0px;top:767.0px;font-size:42px;color:#000;font-weight:normal;transform:translate(-50%,-50%) scaleX(0.8385);transform-origin:center center;">전년동월</div>
<div id="t57" class="t" style="left:3142.0px;top:817.0px;font-size:42px;color:#000;font-weight:normal;transform:translate(-50%,-50%) scaleX(0.9211);transform-origin:center center;">대비</div>
<div id="t58" class="t" style="left:3142.0px;top:864.0px;font-size:42px;color:#000;font-weight:normal;transform:translate(-50%,-50%) scaleX(0.9682);transform-origin:center center;">(%p)</div>
<div id="t59" class="t" style="left:3322.0px;top:765.0px;font-size:46px;color:#000;font-weight:bold;transform:translate(-50%,-50%) scaleX(0.8693);transform-origin:center center;">TCI</div>
<div id="t60" class="t" style="left:3322.0px;top:817.0px;font-size:42px;color:#000;font-weight:normal;transform:translate(-50%,-50%) scaleX(0.9404);transform-origin:center center;">(19년</div>
<div id="t61" class="t" style="left:3322.0px;top:864.0px;font-size:42px;color:#000;font-weight:normal;transform:translate(-50%,-50%) scaleX(0.8533);transform-origin:center center;">동월 대비)</div>
<div id="t62" class="t" style="left:2584.0px;top:938.0px;font-size:45px;color:#404040;font-weight:normal;transform:translate(-50%,-50%) scaleX(0.9286);transform-origin:center center;">부산시</div>
<div id="t63" class="t" style="left:2779.0px;top:938.0px;font-size:43px;color:#404040;font-weight:normal;transform:translate(-50%,-50%) scaleX(1.0024);transform-origin:center center;">8.1</div>
<div id="t64" class="t" style="left:2961.0px;top:938.0px;font-size:43px;color:#404040;font-weight:normal;transform:translate(-50%,-50%) scaleX(0.9975);transform-origin:center center;">-0.0</div>
<div id="t65" class="t" style="left:3142.0px;top:938.0px;font-size:43px;color:#0000ff;font-weight:bold;transform:translate(-50%,-50%) scaleX(0.9975);transform-origin:center center;">-1.8</div>
<div id="t66" class="t" style="left:3323.0px;top:938.0px;font-size:43px;color:#404040;font-weight:normal;transform:translate(-50%,-50%) scaleX(0.8906);transform-origin:center center;">74</div>
<div id="t67" class="t" style="left:2584.0px;top:1014.0px;font-size:45px;color:#404040;font-weight:normal;transform:translate(-50%,-50%) scaleX(0.9023);transform-origin:center center;">경상북도</div>
<div id="t68" class="t" style="left:2779.0px;top:1014.0px;font-size:43px;color:#404040;font-weight:normal;transform:translate(-50%,-50%) scaleX(1.0024);transform-origin:center center;">7.4</div>
<div id="t69" class="t" style="left:2961.0px;top:1014.0px;font-size:43px;color:#404040;font-weight:normal;transform:translate(-50%,-50%) scaleX(1.0374);transform-origin:center center;">+0.2</div>
<div id="t70" class="t" style="left:3142.0px;top:1014.0px;font-size:43px;color:#ff0000;font-weight:bold;transform:translate(-50%,-50%) scaleX(1.0124);transform-origin:center center;">+0.7</div>
<div id="t71" class="t" style="left:3323.0px;top:1014.0px;font-size:43px;color:#404040;font-weight:normal;transform:translate(-50%,-50%) scaleX(1.0175);transform-origin:center center;">121</div>
<div id="t72" class="t" style="left:2584.0px;top:1090.0px;font-size:45px;color:#404040;font-weight:normal;transform:translate(-50%,-50%) scaleX(0.9023);transform-origin:center center;">경상남도</div>
<div id="t73" class="t" style="left:2779.0px;top:1090.0px;font-size:43px;color:#404040;font-weight:normal;transform:translate(-50%,-50%) scaleX(1.0204);transform-origin:center center;">6.7</div>
<div id="t74" class="t" style="left:2961.0px;top:1090.0px;font-size:43px;color:#404040;font-weight:normal;transform:translate(-50%,-50%) scaleX(0.9975);transform-origin:center center;">-0.4</div>
<div id="t75" class="t" style="left:3142.0px;top:1090.0px;font-size:43px;color:#404040;font-weight:normal;transform:translate(-50%,-50%) scaleX(1.0247);transform-origin:center center;">+0.6</div>
<div id="t76" class="t" style="left:3323.0px;top:1090.0px;font-size:43px;color:#404040;font-weight:normal;transform:translate(-50%,-50%) scaleX(1.0520);transform-origin:center center;">116</div>
<div id="t77" class="t" style="left:2584.0px;top:1166.0px;font-size:45px;color:#404040;font-weight:normal;transform:translate(-50%,-50%) scaleX(0.9213);transform-origin:center center;">대구시</div>
<div id="t78" class="t" style="left:2779.0px;top:1166.0px;font-size:43px;color:#404040;font-weight:normal;transform:translate(-50%,-50%) scaleX(1.0024);transform-origin:center center;">2.4</div>
<div id="t79" class="t" style="left:2838.0px;top:1174.0px;font-size:40px;color:#808080;font-weight:normal;transform:translate(-50%,-50%) scaleX(1.0000);transform-origin:center center;">*</div>
<div id="t80" class="t" style="left:2961.0px;top:1166.0px;font-size:43px;color:#404040;font-weight:normal;transform:translate(-50%,-50%) scaleX(1.0247);transform-origin:center center;">+0.3</div>
<div id="t81" class="t" style="left:3142.0px;top:1166.0px;font-size:43px;color:#ff0000;font-weight:bold;transform:translate(-50%,-50%) scaleX(1.0124);transform-origin:center center;">+0.8</div>
<div id="t82" class="t" style="left:3323.0px;top:1166.0px;font-size:43px;color:#404040;font-weight:normal;transform:translate(-50%,-50%) scaleX(0.8712);transform-origin:center center;">80</div>
<div id="t83" class="t" style="left:2584.0px;top:1242.0px;font-size:45px;color:#404040;font-weight:normal;transform:translate(-50%,-50%) scaleX(0.9286);transform-origin:center center;">울산시</div>
<div id="t84" class="t" style="left:2779.0px;top:1242.0px;font-size:43px;color:#404040;font-weight:normal;transform:translate(-50%,-50%) scaleX(1.0204);transform-origin:center center;">1.6</div>
<div id="t85" class="t" style="left:2838.0px;top:1250.0px;font-size:40px;color:#808080;font-weight:normal;transform:translate(-50%,-50%) scaleX(1.0000);transform-origin:center center;">*</div>
<div id="t86" class="t" style="left:2961.0px;top:1242.0px;font-size:43px;color:#404040;font-weight:normal;transform:translate(-50%,-50%) scaleX(1.0374);transform-origin:center center;">+0.1</div>
<div id="t87" class="t" style="left:3142.0px;top:1242.0px;font-size:43px;color:#404040;font-weight:normal;transform:translate(-50%,-50%) scaleX(1.0247);transform-origin:center center;">+0.6</div>
<div id="t88" class="t" style="left:3323.0px;top:1242.0px;font-size:43px;color:#404040;font-weight:normal;transform:translate(-50%,-50%) scaleX(1.0520);transform-origin:center center;">110</div>
<div id="t89" class="t" style="left:2584.0px;top:1318.0px;font-size:45px;color:#404040;font-weight:normal;transform:translate(-50%,-50%) scaleX(0.9070);transform-origin:center center;">강원도</div>
<div id="t90" class="t" style="left:2779.0px;top:1318.0px;font-size:43px;color:#404040;font-weight:normal;transform:translate(-50%,-50%) scaleX(1.0275);transform-origin:center center;">20.6</div>
<div id="t91" class="t" style="left:2961.0px;top:1318.0px;font-size:43px;color:#0000ff;font-weight:bold;transform:translate(-50%,-50%) scaleX(0.9975);transform-origin:center center;">-1.5</div>
<div id="t92" class="t" style="left:3142.0px;top:1318.0px;font-size:43px;color:#0000ff;font-weight:bold;transform:translate(-50%,-50%) scaleX(0.9975);transform-origin:center center;">-1.5</div>
<div id="t93" class="t" style="left:3323.0px;top:1318.0px;font-size:43px;color:#404040;font-weight:normal;transform:translate(-50%,-50%) scaleX(0.8906);transform-origin:center center;">94</div>
<div id="t94" class="t" style="left:2584.0px;top:1394.0px;font-size:45px;color:#404040;font-weight:normal;transform:translate(-50%,-50%) scaleX(0.9141);transform-origin:center center;">서울시</div>
<div id="t95" class="t" style="left:2779.0px;top:1394.0px;font-size:43px;color:#404040;font-weight:normal;transform:translate(-50%,-50%) scaleX(1.0024);transform-origin:center center;">7.4</div>
<div id="t96" class="t" style="left:2961.0px;top:1394.0px;font-size:43px;color:#ff0000;font-weight:bold;transform:translate(-50%,-50%) scaleX(1.0124);transform-origin:center center;">+0.8</div>
<div id="t97" class="t" style="left:3142.0px;top:1394.0px;font-size:43px;color:#404040;font-weight:normal;transform:translate(-50%,-50%) scaleX(1.0247);transform-origin:center center;">+0.3</div>
<div id="t98" class="t" style="left:3323.0px;top:1394.0px;font-size:43px;color:#404040;font-weight:normal;transform:translate(-50%,-50%) scaleX(1.0025);transform-origin:center center;">134</div>
<div id="t99" class="t" style="left:2584.0px;top:1470.0px;font-size:45px;color:#404040;font-weight:normal;transform:translate(-50%,-50%) scaleX(0.9070);transform-origin:center center;">경기도</div>
<div id="t100" class="t" style="left:2779.0px;top:1470.0px;font-size:43px;color:#404040;font-weight:normal;transform:translate(-50%,-50%) scaleX(1.0204);transform-origin:center center;">7.2</div>
<div id="t101" class="t" style="left:2961.0px;top:1470.0px;font-size:43px;color:#ff0000;font-weight:bold;transform:translate(-50%,-50%) scaleX(1.0124);transform-origin:center center;">+1.5</div>
<div id="t102" class="t" style="left:3142.0px;top:1470.0px;font-size:43px;color:#404040;font-weight:normal;transform:translate(-50%,-50%) scaleX(1.0374);transform-origin:center center;">+0.2</div>
<div id="t103" class="t" style="left:3323.0px;top:1470.0px;font-size:43px;color:#404040;font-weight:normal;transform:translate(-50%,-50%) scaleX(1.0175);transform-origin:center center;">137</div>
<div id="t104" class="t" style="left:2584.0px;top:1546.0px;font-size:45px;color:#404040;font-weight:normal;transform:translate(-50%,-50%) scaleX(0.9435);transform-origin:center center;">인천시</div>
<div id="t105" class="t" style="left:2779.0px;top:1546.0px;font-size:43px;color:#404040;font-weight:normal;transform:translate(-50%,-50%) scaleX(1.0024);transform-origin:center center;">2.4</div>
<div id="t106" class="t" style="left:2838.0px;top:1554.0px;font-size:40px;color:#808080;font-weight:normal;transform:translate(-50%,-50%) scaleX(1.0000);transform-origin:center center;">*</div>
<div id="t107" class="t" style="left:2961.0px;top:1546.0px;font-size:43px;color:#404040;font-weight:normal;transform:translate(-50%,-50%) scaleX(1.0115);transform-origin:center center;">-0.2</div>
<div id="t108" class="t" style="left:3142.0px;top:1546.0px;font-size:43px;color:#404040;font-weight:normal;transform:translate(-50%,-50%) scaleX(1.0115);transform-origin:center center;">-0.1</div>
<div id="t109" class="t" style="left:3323.0px;top:1546.0px;font-size:43px;color:#404040;font-weight:normal;transform:translate(-50%,-50%) scaleX(1.0025);transform-origin:center center;">155</div>
<div id="t110" class="t" style="left:2584.0px;top:1622.0px;font-size:45px;color:#404040;font-weight:normal;transform:translate(-50%,-50%) scaleX(0.8971);transform-origin:center center;">전라남도</div>
<div id="t111" class="t" style="left:2779.0px;top:1622.0px;font-size:43px;color:#404040;font-weight:normal;transform:translate(-50%,-50%) scaleX(1.0024);transform-origin:center center;">9.3</div>
<div id="t112" class="t" style="left:2961.0px;top:1622.0px;font-size:43px;color:#404040;font-weight:normal;transform:translate(-50%,-50%) scaleX(1.0115);transform-origin:center center;">-0.2</div>
<div id="t113" class="t" style="left:3142.0px;top:1622.0px;font-size:43px;color:#404040;font-weight:normal;transform:translate(-50%,-50%) scaleX(1.0374);transform-origin:center center;">+0.1</div>
<div id="t114" class="t" style="left:3323.0px;top:1622.0px;font-size:43px;color:#404040;font-weight:normal;transform:translate(-50%,-50%) scaleX(1.0175);transform-origin:center center;">122</div>
<div id="t115" class="t" style="left:2584.0px;top:1698.0px;font-size:45px;color:#404040;font-weight:normal;transform:translate(-50%,-50%) scaleX(0.8971);transform-origin:center center;">전라북도</div>
<div id="t116" class="t" style="left:2779.0px;top:1698.0px;font-size:43px;color:#404040;font-weight:normal;transform:translate(-50%,-50%) scaleX(0.9851);transform-origin:center center;">4.1</div>
<div id="t117" class="t" style="left:2838.0px;top:1706.0px;font-size:40px;color:#808080;font-weight:normal;transform:translate(-50%,-50%) scaleX(1.0000);transform-origin:center center;">*</div>
<div id="t118" class="t" style="left:2961.0px;top:1698.0px;font-size:43px;color:#404040;font-weight:normal;transform:translate(-50%,-50%) scaleX(1.0247);transform-origin:center center;">+0.3</div>
<div id="t119" class="t" style="left:3142.0px;top:1698.0px;font-size:43px;color:#404040;font-weight:normal;transform:translate(-50%,-50%) scaleX(0.9975);transform-origin:center center;">-0.5</div>
<div id="t120" class="t" style="left:3323.0px;top:1698.0px;font-size:43px;color:#404040;font-weight:normal;transform:translate(-50%,-50%) scaleX(1.0175);transform-origin:center center;">102</div>
<div id="t121" class="t" style="left:2584.0px;top:1774.0px;font-size:45px;color:#404040;font-weight:normal;transform:translate(-50%,-50%) scaleX(0.9213);transform-origin:center center;">광주시</div>
<div id="t122" class="t" style="left:2779.0px;top:1774.0px;font-size:43px;color:#404040;font-weight:normal;transform:translate(-50%,-50%) scaleX(1.0390);transform-origin:center center;">1.1</div>
<div id="t123" class="t" style="left:2838.0px;top:1782.0px;font-size:40px;color:#808080;font-weight:normal;transform:translate(-50%,-50%) scaleX(1.0000);transform-origin:center center;">*</div>
<div id="t124" class="t" style="left:2961.0px;top:1774.0px;font-size:43px;color:#404040;font-weight:normal;transform:translate(-50%,-50%) scaleX(1.0247);transform-origin:center center;">+0.3</div>
<div id="t125" class="t" style="left:3142.0px;top:1774.0px;font-size:43px;color:#404040;font-weight:normal;transform:translate(-50%,-50%) scaleX(1.0247);transform-origin:center center;">+0.4</div>
<div id="t126" class="t" style="left:3323.0px;top:1774.0px;font-size:43px;color:#404040;font-weight:normal;transform:translate(-50%,-50%) scaleX(0.8906);transform-origin:center center;">95</div>
<div id="t127" class="t" style="left:2584.0px;top:1850.0px;font-size:45px;color:#404040;font-weight:normal;transform:translate(-50%,-50%) scaleX(0.9023);transform-origin:center center;">충청남도</div>
<div id="t128" class="t" style="left:2779.0px;top:1850.0px;font-size:43px;color:#404040;font-weight:normal;transform:translate(-50%,-50%) scaleX(0.9851);transform-origin:center center;">4.2</div>
<div id="t129" class="t" style="left:2961.0px;top:1850.0px;font-size:43px;color:#0000ff;font-weight:bold;transform:translate(-50%,-50%) scaleX(0.9839);transform-origin:center center;">-1.4</div>
<div id="t130" class="t" style="left:3142.0px;top:1850.0px;font-size:43px;color:#404040;font-weight:normal;transform:translate(-50%,-50%) scaleX(0.9975);transform-origin:center center;">-0.6</div>
<div id="t131" class="t" style="left:3323.0px;top:1850.0px;font-size:43px;color:#404040;font-weight:normal;transform:translate(-50%,-50%) scaleX(1.0175);transform-origin:center center;">107</div>
<div id="t132" class="t" style="left:2584.0px;top:1926.0px;font-size:45px;color:#404040;font-weight:normal;transform:translate(-50%,-50%) scaleX(0.9023);transform-origin:center center;">충청북도</div>
<div id="t133" class="t" style="left:2779.0px;top:1926.0px;font-size:43px;color:#404040;font-weight:normal;transform:translate(-50%,-50%) scaleX(0.9851);transform-origin:center center;">3.3</div>
<div id="t134" class="t" style="left:2838.0px;top:1934.0px;font-size:40px;color:#808080;font-weight:normal;transform:translate(-50%,-50%) scaleX(1.0000);transform-origin:center center;">*</div>
<div id="t135" class="t" style="left:2961.0px;top:1926.0px;font-size:43px;color:#404040;font-weight:normal;transform:translate(-50%,-50%) scaleX(0.9975);transform-origin:center center;">-0.5</div>
<div id="t136" class="t" style="left:3142.0px;top:1926.0px;font-size:43px;color:#404040;font-weight:normal;transform:translate(-50%,-50%) scaleX(1.0247);transform-origin:center center;">+0.4</div>
<div id="t137" class="t" style="left:3323.0px;top:1926.0px;font-size:43px;color:#404040;font-weight:normal;transform:translate(-50%,-50%) scaleX(1.0025);transform-origin:center center;">156</div>
<div id="t138" class="t" style="left:2584.0px;top:2002.0px;font-size:45px;color:#404040;font-weight:normal;transform:translate(-50%,-50%) scaleX(0.9213);transform-origin:center center;">대전시</div>
<div id="t139" class="t" style="left:2779.0px;top:2002.0px;font-size:43px;color:#404040;font-weight:normal;transform:translate(-50%,-50%) scaleX(1.0024);transform-origin:center center;">2.3</div>
<div id="t140" class="t" style="left:2838.0px;top:2010.0px;font-size:40px;color:#808080;font-weight:normal;transform:translate(-50%,-50%) scaleX(1.0000);transform-origin:center center;">*</div>
<div id="t141" class="t" style="left:2961.0px;top:2002.0px;font-size:43px;color:#404040;font-weight:normal;transform:translate(-50%,-50%) scaleX(1.0374);transform-origin:center center;">+0.1</div>
<div id="t142" class="t" style="left:3142.0px;top:2002.0px;font-size:43px;color:#404040;font-weight:normal;transform:translate(-50%,-50%) scaleX(1.0115);transform-origin:center center;">-0.2</div>
<div id="t143" class="t" style="left:3323.0px;top:2002.0px;font-size:43px;color:#404040;font-weight:normal;transform:translate(-50%,-50%) scaleX(0.9880);transform-origin:center center;">203</div>
<div id="t144" class="t" style="left:2584.0px;top:2078.0px;font-size:45px;color:#404040;font-weight:normal;transform:translate(-50%,-50%) scaleX(0.8864);transform-origin:center center;">제주도</div>
<div id="t145" class="t" style="left:2779.0px;top:2078.0px;font-size:43px;color:#404040;font-weight:normal;transform:translate(-50%,-50%) scaleX(1.0404);transform-origin:center center;">12.0</div>
<div id="t146" class="t" style="left:2961.0px;top:2078.0px;font-size:43px;color:#404040;font-weight:normal;transform:translate(-50%,-50%) scaleX(1.0247);transform-origin:center center;">+0.5</div>
<div id="t147" class="t" style="left:3142.0px;top:2078.0px;font-size:43px;color:#404040;font-weight:normal;transform:translate(-50%,-50%) scaleX(1.0247);transform-origin:center center;">+0.6</div>
<div id="t148" class="t" style="left:3323.0px;top:2078.0px;font-size:43px;color:#404040;font-weight:normal;transform:translate(-50%,-50%) scaleX(0.8906);transform-origin:center center;">64</div>
<div id="t149" class="t" style="left:2455.0px;top:2154.0px;font-size:45px;color:#262626;font-weight:bold;transform:translate(-50%,-50%) scaleX(0.9518);transform-origin:center center;">합계</div>
<div id="t150" class="t" style="left:2779.0px;top:2154.0px;font-size:43px;color:#404040;font-weight:normal;transform:translate(-50%,-50%) scaleX(1.0592);transform-origin:center center;">100%</div>
<div id="t151" class="t" style="left:2961.0px;top:2154.0px;font-size:43px;color:#404040;font-weight:normal;transform:translate(-50%,-50%) scaleX(1.0000);transform-origin:center center;">-</div>
<div id="t152" class="t" style="left:3142.0px;top:2154.0px;font-size:43px;color:#404040;font-weight:normal;transform:translate(-50%,-50%) scaleX(1.0000);transform-origin:center center;">-</div>
<div id="t153" class="t" style="left:3323.0px;top:2154.0px;font-size:43px;color:#404040;font-weight:normal;transform:translate(-50%,-50%) scaleX(1.0000);transform-origin:center center;">-</div>
<div id="t154" class="t" style="left:2346.0px;top:1036.0px;font-size:46px;color:#fff;font-weight:bold;transform:translate(-50%,-50%) scaleX(0.8939);transform-origin:center center;">경상권</div>
<div id="t155" class="t" style="left:2346.0px;top:1090.0px;font-size:46px;color:#fff;font-weight:bold;transform:translate(-50%,-50%) scaleX(0.9803);transform-origin:center center;">26.1%</div>
<div id="t156" class="t" style="left:2346.0px;top:1144.0px;font-size:46px;color:#fff;font-weight:bold;transform:translate(-50%,-50%) scaleX(0.9336);transform-origin:center center;">(+0.1/+0.8)</div>
<div id="t157" class="t" style="left:2346.0px;top:1416.0px;font-size:46px;color:#fff;font-weight:bold;transform:translate(-50%,-50%) scaleX(0.8939);transform-origin:center center;">수도권</div>
<div id="t158" class="t" style="left:2346.0px;top:1470.0px;font-size:46px;color:#fff;font-weight:bold;transform:translate(-50%,-50%) scaleX(0.9880);transform-origin:center center;">17.1%</div>
<div id="t159" class="t" style="left:2346.0px;top:1524.0px;font-size:46px;color:#fff;font-weight:bold;transform:translate(-50%,-50%) scaleX(0.9336);transform-origin:center center;">(+2.2/+0.4)</div>
<div id="t160" class="t" style="left:2346.0px;top:1644.0px;font-size:46px;color:#fff;font-weight:bold;transform:translate(-50%,-50%) scaleX(0.8939);transform-origin:center center;">전라권</div>
<div id="t161" class="t" style="left:2346.0px;top:1698.0px;font-size:46px;color:#fff;font-weight:bold;transform:translate(-50%,-50%) scaleX(0.9880);transform-origin:center center;">14.5%</div>
<div id="t162" class="t" style="left:2346.0px;top:1752.0px;font-size:46px;color:#fff;font-weight:bold;transform:translate(-50%,-50%) scaleX(0.9336);transform-origin:center center;">(+0.4/+0.1)</div>
<div id="t163" class="t" style="left:2346.0px;top:1872.0px;font-size:46px;color:#fff;font-weight:bold;transform:translate(-50%,-50%) scaleX(0.8939);transform-origin:center center;">충청권</div>
<div id="t164" class="t" style="left:2346.0px;top:1926.0px;font-size:46px;color:#fff;font-weight:bold;transform:translate(-50%,-50%) scaleX(0.9908);transform-origin:center center;">9.8%</div>
<div id="t165" class="t" style="left:2346.0px;top:1980.0px;font-size:46px;color:#fff;font-weight:bold;transform:translate(-50%,-50%) scaleX(1.0421);transform-origin:center center;">(-1.8/-0.4)</div>
<div id="t166" class="t" style="left:2346.0px;top:1318.0px;font-size:46px;color:#fff;font-weight:bold;transform:translate(-50%,-50%) scaleX(0.8806);transform-origin:center center;">강원도</div>
<div id="t167" class="t" style="left:2346.0px;top:2078.0px;font-size:46px;color:#fff;font-weight:bold;transform:translate(-50%,-50%) scaleX(0.8613);transform-origin:center center;">제주도</div>
<div id="t168" class="t" style="left:220.0px;top:1182.0px;font-size:51px;color:#6600cc;font-weight:bold;transform:translate(-100%,-50%) scaleX(0.8397);transform-origin:right center;">경상권</div>
<div id="t169" class="t" style="left:223.0px;top:1258.0px;font-size:51px;color:#f5913f;font-weight:bold;transform:translate(-100%,-50%) scaleX(0.8581);transform-origin:right center;">강원도</div>
<div id="t170" class="t" style="left:220.0px;top:1522.0px;font-size:51px;color:#e31837;font-weight:bold;transform:translate(-100%,-50%) scaleX(0.8562);transform-origin:right center;">수도권</div>
<div id="t171" class="t" style="left:220.0px;top:1598.0px;font-size:51px;color:#4aadd9;font-weight:bold;transform:translate(-100%,-50%) scaleX(0.8459);transform-origin:right center;">전라권</div>
<div id="t172" class="t" style="left:223.0px;top:1758.0px;font-size:51px;color:#ff88cc;font-weight:bold;transform:translate(-100%,-50%) scaleX(0.8450);transform-origin:right center;">제주도</div>
<div id="t173" class="t" style="left:220.0px;top:1903.0px;font-size:51px;color:#00949f;font-weight:bold;transform:translate(-100%,-50%) scaleX(0.8610);transform-origin:right center;">충청권</div>
<div id="t174" class="t" style="left:293.0px;top:1137.6px;font-size:51px;color:#6600cc;font-weight:bold;transform:translate(-50%,-50%) scaleX(0.8094);transform-origin:center center;letter-spacing:-1px;">24.2</div>
<div id="t175" class="t" style="left:415.0px;top:1090.0px;font-size:51px;color:#6600cc;font-weight:bold;transform:translate(-50%,-50%) scaleX(0.8094);transform-origin:center center;letter-spacing:-1px;">25.2</div>
<div id="t176" class="t" style="left:538.0px;top:1073.0px;font-size:51px;color:#6600cc;font-weight:bold;transform:translate(-50%,-50%) scaleX(0.8094);transform-origin:center center;letter-spacing:-1px;">25.6</div>
<div id="t177" class="t" style="left:660.0px;top:1104.0px;font-size:51px;color:#6600cc;font-weight:bold;transform:translate(-50%,-50%) scaleX(0.8094);transform-origin:center center;letter-spacing:-1px;">24.9</div>
<div id="t178" class="t" style="left:782.0px;top:1078.0px;font-size:51px;color:#6600cc;font-weight:bold;transform:translate(-50%,-50%) scaleX(0.8094);transform-origin:center center;letter-spacing:-1px;">25.5</div>
<div id="t179" class="t" style="left:903.0px;top:1046.0px;font-size:51px;color:#6600cc;font-weight:bold;transform:translate(-50%,-50%) scaleX(0.8094);transform-origin:center center;letter-spacing:-1px;">26.2</div>
<div id="t180" class="t" style="left:1026.0px;top:1018.0px;font-size:51px;color:#6600cc;font-weight:bold;transform:translate(-50%,-50%) scaleX(0.8094);transform-origin:center center;letter-spacing:-1px;">26.8</div>
<div id="t181" class="t" style="left:1147.0px;top:935.0px;font-size:51px;color:#6600cc;font-weight:bold;transform:translate(-50%,-50%) scaleX(0.8094);transform-origin:center center;letter-spacing:-1px;">28.7</div>
<div id="t182" class="t" style="left:1268.0px;top:1276.5px;font-size:51px;color:#6600cc;font-weight:bold;transform:translate(-50%,-50%) scaleX(0.8094);transform-origin:center center;letter-spacing:-1px;">24.1</div>
<div id="t183" class="t" style="left:1391.6px;top:1065.5px;font-size:51px;color:#6600cc;font-weight:bold;transform:translate(-50%,-50%) scaleX(0.8094);transform-origin:center center;letter-spacing:-1px;">25.8</div>
<div id="t184" class="t" style="left:1513.0px;top:1087.0px;font-size:51px;color:#6600cc;font-weight:bold;transform:translate(-50%,-50%) scaleX(0.8094);transform-origin:center center;letter-spacing:-1px;">25.3</div>
<div id="t185" class="t" style="left:1635.0px;top:1105.4px;font-size:51px;color:#6600cc;font-weight:bold;transform:translate(-50%,-50%) scaleX(0.8094);transform-origin:center center;letter-spacing:-1px;">24.9</div>
<div id="t186" class="t" style="left:1757.0px;top:1059.5px;font-size:51px;color:#6600cc;font-weight:bold;transform:translate(-50%,-50%) scaleX(0.8094);transform-origin:center center;letter-spacing:-1px;">25.9</div>
<div id="t187" class="t" style="left:1877.0px;top:1052.0px;font-size:51px;color:#6600cc;font-weight:bold;transform:translate(-50%,-50%) scaleX(0.8094);transform-origin:center center;letter-spacing:-1px;">26.1</div>
<div id="t188" class="t" style="left:295.0px;top:1309.0px;font-size:51px;color:#f5913f;font-weight:bold;transform:translate(-50%,-50%) scaleX(0.7925);transform-origin:center center;letter-spacing:-1px;">23.4</div>
<div id="t189" class="t" style="left:414.0px;top:1366.0px;font-size:51px;color:#f5913f;font-weight:bold;transform:translate(-50%,-50%) scaleX(0.8094);transform-origin:center center;letter-spacing:-1px;">22.1</div>
<div id="t190" class="t" style="left:538.0px;top:1374.0px;font-size:51px;color:#f5913f;font-weight:bold;transform:translate(-50%,-50%) scaleX(0.8094);transform-origin:center center;letter-spacing:-1px;">21.9</div>
<div id="t191" class="t" style="left:660.0px;top:1312.0px;font-size:51px;color:#f5913f;font-weight:bold;transform:translate(-50%,-50%) scaleX(0.8094);transform-origin:center center;letter-spacing:-1px;">23.3</div>
<div id="t192" class="t" style="left:782.0px;top:1326.0px;font-size:51px;color:#f5913f;font-weight:bold;transform:translate(-50%,-50%) scaleX(0.8094);transform-origin:center center;letter-spacing:-1px;">23.0</div>
<div id="t193" class="t" style="left:903.0px;top:1328.0px;font-size:51px;color:#f5913f;font-weight:bold;transform:translate(-50%,-50%) scaleX(0.8270);transform-origin:center center;letter-spacing:-1px;">19.9</div>
<div id="t194" class="t" style="left:1026.0px;top:1284.6px;font-size:51px;color:#f5913f;font-weight:bold;transform:translate(-50%,-50%) scaleX(0.8094);transform-origin:center center;letter-spacing:-1px;">20.9</div>
<div id="t195" class="t" style="left:1147.0px;top:1149.0px;font-size:51px;color:#f5913f;font-weight:bold;transform:translate(-50%,-50%) scaleX(0.8094);transform-origin:center center;letter-spacing:-1px;">23.9</div>
<div id="t196" class="t" style="left:1269.0px;top:1069.5px;font-size:51px;color:#f5913f;font-weight:bold;transform:translate(-50%,-50%) scaleX(0.8094);transform-origin:center center;letter-spacing:-1px;">25.7</div>
<div id="t197" class="t" style="left:1391.6px;top:1221.6px;font-size:51px;color:#f5913f;font-weight:bold;transform:translate(-50%,-50%) scaleX(0.8094);transform-origin:center center;letter-spacing:-1px;">25.3</div>
<div id="t198" class="t" style="left:1513.0px;top:1240.0px;font-size:51px;color:#f5913f;font-weight:bold;transform:translate(-50%,-50%) scaleX(0.8094);transform-origin:center center;letter-spacing:-1px;">21.9</div>
<div id="t199" class="t" style="left:1635.0px;top:1221.6px;font-size:51px;color:#f5913f;font-weight:bold;transform:translate(-50%,-50%) scaleX(0.8094);transform-origin:center center;letter-spacing:-1px;">22.7</div>
<div id="t200" class="t" style="left:1754.7px;top:1231.6px;font-size:51px;color:#f5913f;font-weight:bold;transform:translate(-50%,-50%) scaleX(0.8094);transform-origin:center center;letter-spacing:-1px;">22.1</div>
<div id="t201" class="t" style="left:1878.0px;top:1298.0px;font-size:51px;color:#f5913f;font-weight:bold;transform:translate(-50%,-50%) scaleX(0.8094);transform-origin:center center;letter-spacing:-1px;">20.6</div>
<div id="t202" class="t" style="left:296.0px;top:1482.0px;font-size:51px;color:#e31837;font-weight:bold;transform:translate(-50%,-50%) scaleX(0.8270);transform-origin:center center;letter-spacing:-1px;">16.5</div>
<div id="t203" class="t" style="left:416.5px;top:1471.6px;font-size:51px;color:#e31837;font-weight:bold;transform:translate(-50%,-50%) scaleX(0.8270);transform-origin:center center;letter-spacing:-1px;">16.7</div>
<div id="t204" class="t" style="left:539.0px;top:1502.6px;font-size:51px;color:#e31837;font-weight:bold;transform:translate(-50%,-50%) scaleX(0.8270);transform-origin:center center;letter-spacing:-1px;">16.0</div>
<div id="t205" class="t" style="left:660.0px;top:1538.0px;font-size:51px;color:#e31837;font-weight:bold;transform:translate(-50%,-50%) scaleX(0.8270);transform-origin:center center;letter-spacing:-1px;">15.2</div>
<div id="t206" class="t" style="left:782.0px;top:1707.7px;font-size:51px;color:#e31837;font-weight:bold;transform:translate(-50%,-50%) scaleX(0.8270);transform-origin:center center;letter-spacing:-1px;">14.5</div>
<div id="t207" class="t" style="left:904.0px;top:1650.5px;font-size:51px;color:#e31837;font-weight:bold;transform:translate(-50%,-50%) scaleX(0.8270);transform-origin:center center;letter-spacing:-1px;">15.8</div>
<div id="t208" class="t" style="left:1026.0px;top:1712.5px;font-size:51px;color:#e31837;font-weight:bold;transform:translate(-50%,-50%) scaleX(0.8094);transform-origin:center center;letter-spacing:-1px;">14.4</div>
<div id="t209" class="t" style="left:1148.8px;top:1567.0px;font-size:51px;color:#e31837;font-weight:bold;transform:translate(-50%,-50%) scaleX(0.8270);transform-origin:center center;letter-spacing:-1px;">14.6</div>
<div id="t210" class="t" style="left:1271.0px;top:1741.6px;font-size:51px;color:#e31837;font-weight:bold;transform:translate(-50%,-50%) scaleX(0.8270);transform-origin:center center;letter-spacing:-1px;">13.8</div>
<div id="t211" class="t" style="left:1393.0px;top:1574.6px;font-size:51px;color:#e31837;font-weight:bold;transform:translate(-50%,-50%) scaleX(0.8094);transform-origin:center center;letter-spacing:-1px;">14.4</div>
<div id="t212" class="t" style="left:1513.0px;top:1450.0px;font-size:51px;color:#e31837;font-weight:bold;transform:translate(-50%,-50%) scaleX(0.8270);transform-origin:center center;letter-spacing:-1px;">17.2</div>
<div id="t213" class="t" style="left:1634.5px;top:1499.8px;font-size:51px;color:#e31837;font-weight:bold;transform:translate(-50%,-50%) scaleX(0.8270);transform-origin:center center;letter-spacing:-1px;">16.1</div>
<div id="t214" class="t" style="left:1758.0px;top:1557.0px;font-size:51px;color:#e31837;font-weight:bold;transform:translate(-50%,-50%) scaleX(0.8270);transform-origin:center center;letter-spacing:-1px;">14.8</div>
<div id="t215" class="t" style="left:1878.0px;top:1455.0px;font-size:51px;color:#e31837;font-weight:bold;transform:translate(-50%,-50%) scaleX(0.8270);transform-origin:center center;letter-spacing:-1px;">17.1</div>
<div id="t216" class="t" style="left:296.0px;top:1664.8px;font-size:51px;color:#4aadd9;font-weight:bold;transform:translate(-50%,-50%) scaleX(0.8270);transform-origin:center center;letter-spacing:-1px;">15.5</div>
<div id="t217" class="t" style="left:416.5px;top:1709.0px;font-size:51px;color:#4aadd9;font-weight:bold;transform:translate(-50%,-50%) scaleX(0.8270);transform-origin:center center;letter-spacing:-1px;">14.5</div>
<div id="t218" class="t" style="left:539.0px;top:1686.0px;font-size:51px;color:#4aadd9;font-weight:bold;transform:translate(-50%,-50%) scaleX(0.8270);transform-origin:center center;letter-spacing:-1px;">15.0</div>
<div id="t219" class="t" style="left:660.0px;top:1779.0px;font-size:51px;color:#4aadd9;font-weight:bold;transform:translate(-50%,-50%) scaleX(0.8270);transform-origin:center center;letter-spacing:-1px;">13.6</div>
<div id="t220" class="t" style="left:782.0px;top:1476.0px;font-size:51px;color:#4aadd9;font-weight:bold;transform:translate(-50%,-50%) scaleX(0.8270);transform-origin:center center;letter-spacing:-1px;">16.6</div>
<div id="t221" class="t" style="left:904.0px;top:1476.0px;font-size:51px;color:#4aadd9;font-weight:bold;transform:translate(-50%,-50%) scaleX(0.8270);transform-origin:center center;letter-spacing:-1px;">16.6</div>
<div id="t222" class="t" style="left:1026.0px;top:1500.0px;font-size:51px;color:#4aadd9;font-weight:bold;transform:translate(-50%,-50%) scaleX(0.8270);transform-origin:center center;letter-spacing:-1px;">16.1</div>
<div id="t223" class="t" style="left:1148.8px;top:1709.0px;font-size:51px;color:#4aadd9;font-weight:bold;transform:translate(-50%,-50%) scaleX(0.8270);transform-origin:center center;letter-spacing:-1px;">14.5</div>
<div id="t224" class="t" style="left:1271.0px;top:1558.6px;font-size:51px;color:#4aadd9;font-weight:bold;transform:translate(-50%,-50%) scaleX(0.8270);transform-origin:center center;letter-spacing:-1px;">14.8</div>
<div id="t225" class="t" style="left:1386.7px;top:1728.0px;font-size:51px;color:#4aadd9;font-weight:bold;transform:translate(-50%,-50%) scaleX(0.8270);transform-origin:center center;letter-spacing:-1px;">13.5</div>
<div id="t226" class="t" style="left:1513.8px;top:1579.6px;font-size:51px;color:#4aadd9;font-weight:bold;transform:translate(-50%,-50%) scaleX(0.8270);transform-origin:center center;letter-spacing:-1px;">14.3</div>
<div id="t227" class="t" style="left:1638.5px;top:1643.0px;font-size:51px;color:#4aadd9;font-weight:bold;transform:translate(-50%,-50%) scaleX(0.8270);transform-origin:center center;letter-spacing:-1px;">13.0</div>
<div id="t228" class="t" style="left:1753.0px;top:1709.0px;font-size:51px;color:#4aadd9;font-weight:bold;transform:translate(-50%,-50%) scaleX(0.8270);transform-origin:center center;letter-spacing:-1px;">14.1</div>
<div id="t229" class="t" style="left:1882.0px;top:1593.5px;font-size:51px;color:#4aadd9;font-weight:bold;transform:translate(-50%,-50%) scaleX(0.8270);transform-origin:center center;letter-spacing:-1px;">14.5</div>
<div id="t230" class="t" style="left:296.0px;top:1828.4px;font-size:51px;color:#ff88cc;font-weight:bold;transform:translate(-50%,-50%) scaleX(0.8531);transform-origin:center center;letter-spacing:-1px;">11.8</div>
<div id="t231" class="t" style="left:416.5px;top:1896.0px;font-size:51px;color:#ff88cc;font-weight:bold;transform:translate(-50%,-50%) scaleX(0.8344);transform-origin:center center;letter-spacing:-1px;">11.4</div>
<div id="t232" class="t" style="left:539.0px;top:1805.5px;font-size:51px;color:#ff88cc;font-weight:bold;transform:translate(-50%,-50%) scaleX(0.8531);transform-origin:center center;letter-spacing:-1px;">11.7</div>
<div id="t233" class="t" style="left:660.0px;top:1887.6px;font-size:51px;color:#ff88cc;font-weight:bold;transform:translate(-50%,-50%) scaleX(0.8270);transform-origin:center center;letter-spacing:-1px;">12.6</div>
<div id="t234" class="t" style="left:782.0px;top:1779.0px;font-size:51px;color:#ff88cc;font-weight:bold;transform:translate(-50%,-50%) scaleX(0.8270);transform-origin:center center;letter-spacing:-1px;">10.3</div>
<div id="t235" class="t" style="left:904.0px;top:1872.0px;font-size:51px;color:#ff88cc;font-weight:bold;transform:translate(-50%,-50%) scaleX(0.8270);transform-origin:center center;letter-spacing:-1px;">10.7</div>
<div id="t236" class="t" style="left:1026.0px;top:1889.0px;font-size:51px;color:#ff88cc;font-weight:bold;transform:translate(-50%,-50%) scaleX(0.8531);transform-origin:center center;letter-spacing:-1px;">11.2</div>
<div id="t237" class="t" style="left:1145.8px;top:1784.0px;font-size:51px;color:#ff88cc;font-weight:bold;transform:translate(-50%,-50%) scaleX(0.8270);transform-origin:center center;letter-spacing:-1px;">10.2</div>
<div id="t238" class="t" style="left:1271.0px;top:1866.0px;font-size:51px;color:#ff88cc;font-weight:bold;transform:translate(-50%,-50%) scaleX(0.8270);transform-origin:center center;letter-spacing:-1px;">10.9</div>
<div id="t239" class="t" style="left:1389.0px;top:1916.0px;font-size:51px;color:#ff88cc;font-weight:bold;transform:translate(-50%,-50%) scaleX(0.8567);transform-origin:center center;letter-spacing:-1px;">9.5</div>
<div id="t240" class="t" style="left:1511.0px;top:1723.0px;font-size:51px;color:#ff88cc;font-weight:bold;transform:translate(-50%,-50%) scaleX(0.8531);transform-origin:center center;letter-spacing:-1px;">11.5</div>
<div id="t241" class="t" style="left:1634.5px;top:1913.7px;font-size:51px;color:#ff88cc;font-weight:bold;transform:translate(-50%,-50%) scaleX(0.8270);transform-origin:center center;letter-spacing:-1px;">10.9</div>
<div id="t242" class="t" style="left:1757.0px;top:1913.7px;font-size:51px;color:#ff88cc;font-weight:bold;transform:translate(-50%,-50%) scaleX(0.8531);transform-origin:center center;letter-spacing:-1px;">11.5</div>
<div id="t243" class="t" style="left:1878.0px;top:1698.0px;font-size:51px;color:#ff88cc;font-weight:bold;transform:translate(-50%,-50%) scaleX(0.8270);transform-origin:center center;letter-spacing:-1px;">12.0</div>
<div id="t244" class="t" style="left:294.0px;top:1972.5px;font-size:51px;color:#00949f;font-weight:bold;transform:translate(-50%,-50%) scaleX(0.8567);transform-origin:center center;letter-spacing:-1px;">8.6</div>
<div id="t245" class="t" style="left:414.0px;top:1956.0px;font-size:51px;color:#00949f;font-weight:bold;transform:translate(-50%,-50%) scaleX(0.8270);transform-origin:center center;letter-spacing:-1px;">10.1</div>
<div id="t246" class="t" style="left:539.0px;top:1917.6px;font-size:51px;color:#00949f;font-weight:bold;transform:translate(-50%,-50%) scaleX(0.8567);transform-origin:center center;letter-spacing:-1px;">9.8</div>
<div id="t247" class="t" style="left:660.0px;top:1960.6px;font-size:51px;color:#00949f;font-weight:bold;transform:translate(-50%,-50%) scaleX(0.8094);transform-origin:center center;letter-spacing:-1px;">10.4</div>
<div id="t248" class="t" style="left:782.0px;top:1908.0px;font-size:51px;color:#00949f;font-weight:bold;transform:translate(-50%,-50%) scaleX(0.8270);transform-origin:center center;letter-spacing:-1px;">10.0</div>
<div id="t249" class="t" style="left:904.0px;top:1750.7px;font-size:51px;color:#00949f;font-weight:bold;transform:translate(-50%,-50%) scaleX(0.8270);transform-origin:center center;letter-spacing:-1px;">10.8</div>
<div id="t250" class="t" style="left:1026.0px;top:1965.0px;font-size:51px;color:#00949f;font-weight:bold;transform:translate(-50%,-50%) scaleX(0.8270);transform-origin:center center;letter-spacing:-1px;">10.6</div>
<div id="t251" class="t" style="left:1145.8px;top:1999.0px;font-size:51px;color:#00949f;font-weight:bold;transform:translate(-50%,-50%) scaleX(0.8567);transform-origin:center center;letter-spacing:-1px;">8.0</div>
<div id="t252" class="t" style="left:1268.0px;top:1932.7px;font-size:51px;color:#00949f;font-weight:bold;transform:translate(-50%,-50%) scaleX(0.8270);transform-origin:center center;letter-spacing:-1px;">10.8</div>
<div id="t253" class="t" style="left:1386.7px;top:1816.5px;font-size:51px;color:#00949f;font-weight:bold;transform:translate(-50%,-50%) scaleX(0.8531);transform-origin:center center;letter-spacing:-1px;">11.5</div>
<div id="t254" class="t" style="left:1513.0px;top:1918.7px;font-size:51px;color:#00949f;font-weight:bold;transform:translate(-50%,-50%) scaleX(0.8567);transform-origin:center center;letter-spacing:-1px;">9.8</div>
<div id="t255" class="t" style="left:1634.5px;top:1846.0px;font-size:51px;color:#00949f;font-weight:bold;transform:translate(-50%,-50%) scaleX(0.8094);transform-origin:center center;letter-spacing:-1px;">12.4</div>
<div id="t256" class="t" style="left:1758.0px;top:1840.0px;font-size:51px;color:#00949f;font-weight:bold;transform:translate(-50%,-50%) scaleX(0.8531);transform-origin:center center;letter-spacing:-1px;">11.5</div>
<div id="t257" class="t" style="left:1880.0px;top:1918.7px;font-size:51px;color:#00949f;font-weight:bold;transform:translate(-50%,-50%) scaleX(0.8567);transform-origin:center center;letter-spacing:-1px;">9.8</div>
<div id="t258" class="t" style="left:2013.0px;top:1055.6px;font-size:43px;color:#6600cc;font-weight:normal;transform:translate(-50%,-50%) scaleX(0.8927);transform-origin:center center;font-style:italic;">27.1</div>
<div id="t259" class="t" style="left:2131.0px;top:1055.6px;font-size:43px;color:#000;font-weight:normal;transform:translate(-50%,-50%) scaleX(0.9351);transform-origin:center center;text-decoration:underline;text-decoration-thickness:3px;text-underline-offset:4px;">96</div>
<div id="t260" class="t" style="left:2013.0px;top:1303.0px;font-size:43px;color:#f5913f;font-weight:normal;transform:translate(-50%,-50%) scaleX(0.8611);transform-origin:center center;font-style:italic;">22.0</div>
<div id="t261" class="t" style="left:2131.0px;top:1303.0px;font-size:43px;color:#000;font-weight:normal;transform:translate(-50%,-50%) scaleX(0.9351);transform-origin:center center;text-decoration:underline;text-decoration-thickness:3px;text-underline-offset:4px;">94</div>
<div id="t262" class="t" style="left:2013.0px;top:1449.0px;font-size:43px;color:#e31837;font-weight:normal;transform:translate(-50%,-50%) scaleX(0.8927);transform-origin:center center;font-style:italic;">12.4</div>
<div id="t263" class="t" style="left:2131.0px;top:1449.0px;font-size:43px;color:#000;font-weight:normal;transform:translate(-50%,-50%) scaleX(0.9141);transform-origin:center center;text-decoration:underline;text-decoration-thickness:3px;text-underline-offset:4px;">138</div>
<div id="t264" class="t" style="left:2013.0px;top:1595.0px;font-size:43px;color:#4aadd9;font-weight:normal;transform:translate(-50%,-50%) scaleX(0.8819);transform-origin:center center;font-style:italic;">12.8</div>
<div id="t265" class="t" style="left:2131.0px;top:1595.0px;font-size:43px;color:#000;font-weight:normal;transform:translate(-50%,-50%) scaleX(0.9592);transform-origin:center center;text-decoration:underline;text-decoration-thickness:3px;text-underline-offset:4px;">114</div>
<div id="t266" class="t" style="left:2013.0px;top:1698.0px;font-size:43px;color:#ff88cc;font-weight:normal;transform:translate(-50%,-50%) scaleX(0.8819);transform-origin:center center;font-style:italic;">18.6</div>
<div id="t267" class="t" style="left:2131.0px;top:1698.0px;font-size:43px;color:#000;font-weight:normal;transform:translate(-50%,-50%) scaleX(0.9351);transform-origin:center center;text-decoration:underline;text-decoration-thickness:3px;text-underline-offset:4px;">64</div>
<div id="t268" class="t" style="left:2013.0px;top:1924.0px;font-size:43px;color:#00949f;font-weight:normal;transform:translate(-50%,-50%) scaleX(0.9309);transform-origin:center center;font-style:italic;">7.2</div>
<div id="t269" class="t" style="left:2131.0px;top:1924.0px;font-size:43px;color:#000;font-weight:normal;transform:translate(-50%,-50%) scaleX(0.9141);transform-origin:center center;text-decoration:underline;text-decoration-thickness:3px;text-underline-offset:4px;">136</div>
<div id="t270" class="t" style="left:99.5px;top:2238.0px;font-size:38px;color:#7f7f7f;font-weight:normal;transform:translate(0,-50%) scaleX(0.8052);transform-origin:left center;">A2-1&amp;2. 앞으로 계획하고 계신 국내 여행지는 어디입니까? 하나만 선택해주십시오.</div>
<div id="t271" class="t" style="left:3413.0px;top:2238.5px;font-size:38px;color:#595959;font-weight:normal;transform:translate(-100%,-50%) scaleX(0.7910);transform-origin:right center;">* 5% 이하 해석에 유의</div>
<div id="t272" class="t" style="left:3413.0px;top:2285.0px;font-size:38px;color:#595959;font-weight:normal;transform:translate(-100%,-50%) scaleX(0.7750);transform-origin:right center;">** 비교%p는 상·하위 2개에 대해 색깔로 표시함</div>
<div id="t273" class="t" style="left:3131.0px;top:2352.0px;font-size:42px;color:#6d6e71;font-weight:normal;transform:translate(0,-50%) scaleX(0.8292);transform-origin:left center;">Consumer</div>
<div id="t274" class="t" style="left:3293.6px;top:2368.0px;font-size:56px;color:#d71920;font-weight:bold;transform:translate(0,-50%) scaleX(0.8283);transform-origin:left center;-webkit-text-stroke:1.5px #d71920;">Insight</div>
<svg width="3508" height="2428" viewBox="0 0 3508 2428"><polygon points="1259.4,1090.2 1864,1303 1879,1265.5 1929.3,1368.7 1825.5,1418 1838.8,1380.5 1232.9,1165.3" fill="rgb(247,150,70)" fill-opacity="0.36"/><polygon points="1221.3,1186.2 1843,1067.6 1845.8,1026.8 1940.8,1090.8 1876,1186 1868.4,1146 1234.1,1262.5" fill="rgb(137,81,209)" fill-opacity="0.5"/><path d="M3193,2377 C3218,2386 3262,2386 3293,2358 C3268,2390 3228,2399 3193,2392 Z" fill="#bcbec0"/></svg>
<script>(function(){try{var M={"t0": [1114, "l"], "t1": [409, "r"], "t2": [108, "r"], "t3": [2355, "l"], "t4": [1602, "l"], "t5": [2895, "l"], "t6": [174, "r"], "t7": [80, "c"], "t8": [80, "c"], "t9": [123, "c"], "t10": [85, "c"], "t11": [85, "c"], "t12": [85, "c"], "t13": [104, "c"], "t14": [85, "c"], "t15": [104, "c"], "t16": [85, "c"], "t17": [104, "c"], "t18": [62, "c"], "t19": [104, "c"], "t20": [62, "c"], "t21": [104, "c"], "t22": [62, "c"], "t23": [104, "c"], "t24": [62, "c"], "t25": [104, "c"], "t26": [62, "c"], "t27": [104, "c"], "t28": [62, "c"], "t29": [104, "c"], "t30": [62, "c"], "t31": [104, "c"], "t32": [62, "c"], "t33": [104, "c"], "t34": [62, "c"], "t35": [104, "c"], "t36": [85, "c"], "t37": [104, "c"], "t38": [85, "c"], "t39": [104, "c"], "t40": [92, "c"], "t41": [85, "c"], "t42": [92, "c"], "t43": [85, "c"], "t44": [62, "c"], "t45": [156, "c"], "t46": [152, "c"], "t47": [172, "c"], "t48": [211, "c"], "t49": [110, "c"], "t50": [85, "c"], "t51": [85, "c"], "t52": [62, "c"], "t53": [70, "c"], "t54": [70, "c"], "t55": [82, "c"], "t56": [135, "c"], "t57": [70, "c"], "t58": [82, "c"], "t59": [62, "c"], "t60": [90, "c"], "t61": [161, "c"], "t62": [117, "c"], "t63": [57, "c"], "t64": [72, "c"], "t65": [72, "c"], "t66": [40, "c"], "t67": [157, "c"], "t68": [57, "c"], "t69": [84, "c"], "t70": [84, "c"], "t71": [68, "c"], "t72": [157, "c"], "t73": [57, "c"], "t74": [72, "c"], "t75": [84, "c"], "t76": [68, "c"], "t77": [117, "c"], "t78": [57, "c"], "t80": [84, "c"], "t81": [84, "c"], "t82": [40, "c"], "t83": [117, "c"], "t84": [57, "c"], "t86": [84, "c"], "t87": [84, "c"], "t88": [68, "c"], "t89": [117, "c"], "t90": [83, "c"], "t91": [72, "c"], "t92": [72, "c"], "t93": [40, "c"], "t94": [117, "c"], "t95": [57, "c"], "t96": [84, "c"], "t97": [84, "c"], "t98": [68, "c"], "t99": [117, "c"], "t100": [57, "c"], "t101": [84, "c"], "t102": [84, "c"], "t103": [68, "c"], "t104": [117, "c"], "t105": [57, "c"], "t107": [72, "c"], "t108": [72, "c"], "t109": [68, "c"], "t110": [157, "c"], "t111": [57, "c"], "t112": [72, "c"], "t113": [84, "c"], "t114": [68, "c"], "t115": [157, "c"], "t116": [57, "c"], "t118": [84, "c"], "t119": [72, "c"], "t120": [68, "c"], "t121": [117, "c"], "t122": [57, "c"], "t124": [84, "c"], "t125": [84, "c"], "t126": [40, "c"], "t127": [157, "c"], "t128": [57, "c"], "t129": [72, "c"], "t130": [72, "c"], "t131": [68, "c"], "t132": [157, "c"], "t133": [57, "c"], "t135": [72, "c"], "t136": [84, "c"], "t137": [68, "c"], "t138": [117, "c"], "t139": [57, "c"], "t141": [84, "c"], "t142": [72, "c"], "t143": [68, "c"], "t144": [117, "c"], "t145": [83, "c"], "t146": [84, "c"], "t147": [84, "c"], "t148": [40, "c"], "t149": [79, "c"], "t150": [112, "c"], "t154": [118, "c"], "t155": [126, "c"], "t156": [207, "c"], "t157": [118, "c"], "t158": [126, "c"], "t159": [207, "c"], "t160": [118, "c"], "t161": [126, "c"], "t162": [207, "c"], "t163": [118, "c"], "t164": [102, "c"], "t165": [207, "c"], "t166": [118, "c"], "t167": [118, "c"], "t168": [122.6, "r"], "t169": [127, "r"], "t170": [125, "r"], "t171": [123.5, "r"], "t172": [127.6, "r"], "t173": [125.7, "r"], "t174": [76, "c"], "t175": [76, "c"], "t176": [76, "c"], "t177": [76, "c"], "t178": [76, "c"], "t179": [76, "c"], "t180": [76, "c"], "t181": [76, "c"], "t182": [76, "c"], "t183": [76, "c"], "t184": [76, "c"], "t185": [76, "c"], "t186": [76, "c"], "t187": [76, "c"], "t188": [76, "c"], "t189": [76, "c"], "t190": [76, "c"], "t191": [76, "c"], "t192": [76, "c"], "t193": [76, "c"], "t194": [76, "c"], "t195": [76, "c"], "t196": [76, "c"], "t197": [76, "c"], "t198": [76, "c"], "t199": [76, "c"], "t200": [76, "c"], "t201": [76, "c"], "t202": [76, "c"], "t203": [76, "c"], "t204": [76, "c"], "t205": [76, "c"], "t206": [76, "c"], "t207": [76, "c"], "t208": [76, "c"], "t209": [76, "c"], "t210": [76, "c"], "t211": [76, "c"], "t212": [76, "c"], "t213": [76, "c"], "t214": [76, "c"], "t215": [76, "c"], "t216": [76, "c"], "t217": [76, "c"], "t218": [76, "c"], "t219": [76, "c"], "t220": [76, "c"], "t221": [76, "c"], "t222": [76, "c"], "t223": [76, "c"], "t224": [76, "c"], "t225": [76, "c"], "t226": [76, "c"], "t227": [76, "c"], "t228": [76, "c"], "t229": [76, "c"], "t230": [76, "c"], "t231": [76, "c"], "t232": [76, "c"], "t233": [76, "c"], "t234": [76, "c"], "t235": [76, "c"], "t236": [76, "c"], "t237": [76, "c"], "t238": [76, "c"], "t239": [57, "c"], "t240": [76, "c"], "t241": [76, "c"], "t242": [76, "c"], "t243": [76, "c"], "t244": [57, "c"], "t245": [76, "c"], "t246": [57, "c"], "t247": [76, "c"], "t248": [76, "c"], "t249": [76, "c"], "t250": [76, "c"], "t251": [57, "c"], "t252": [76, "c"], "t253": [76, "c"], "t254": [57, "c"], "t255": [76, "c"], "t256": [76, "c"], "t257": [57, "c"], "t258": [73, "c"], "t259": [42, "c"], "t260": [73, "c"], "t261": [42, "c"], "t262": [73, "c"], "t263": [62, "c"], "t264": [73, "c"], "t265": [62, "c"], "t266": [73, "c"], "t267": [42, "c"], "t268": [52, "c"], "t269": [62, "c"], "t270": [1120, "l"], "t271": [295, "r"], "t272": [612, "r"], "t273": [159, "l"], "t274": [149, "l"]};var c=document.createElement('canvas').getContext('2d');for(var id in M){var el=document.getElementById(id);if(!el)continue;var cs=getComputedStyle(el);c.font=cs.fontStyle+' '+cs.fontWeight+' '+cs.fontSize+' '+cs.fontFamily;try{c.letterSpacing=(cs.letterSpacing==='normal'?'0px':cs.letterSpacing);}catch(e){}var m=c.measureText(el.textContent);var ink=m.actualBoundingBoxLeft+m.actualBoundingBoxRight;if(!(ink>1))continue;var sx=M[id][0]/ink;var a=M[id][1];var tr=a==='c'?'translate(-50%,-50%)':(a==='l'?'translate(0,-50%)':'translate(-100%,-50%)');el.style.transform=tr+' scaleX('+sx.toFixed(4)+')';}}catch(e){}})();</script>
</body></html>
